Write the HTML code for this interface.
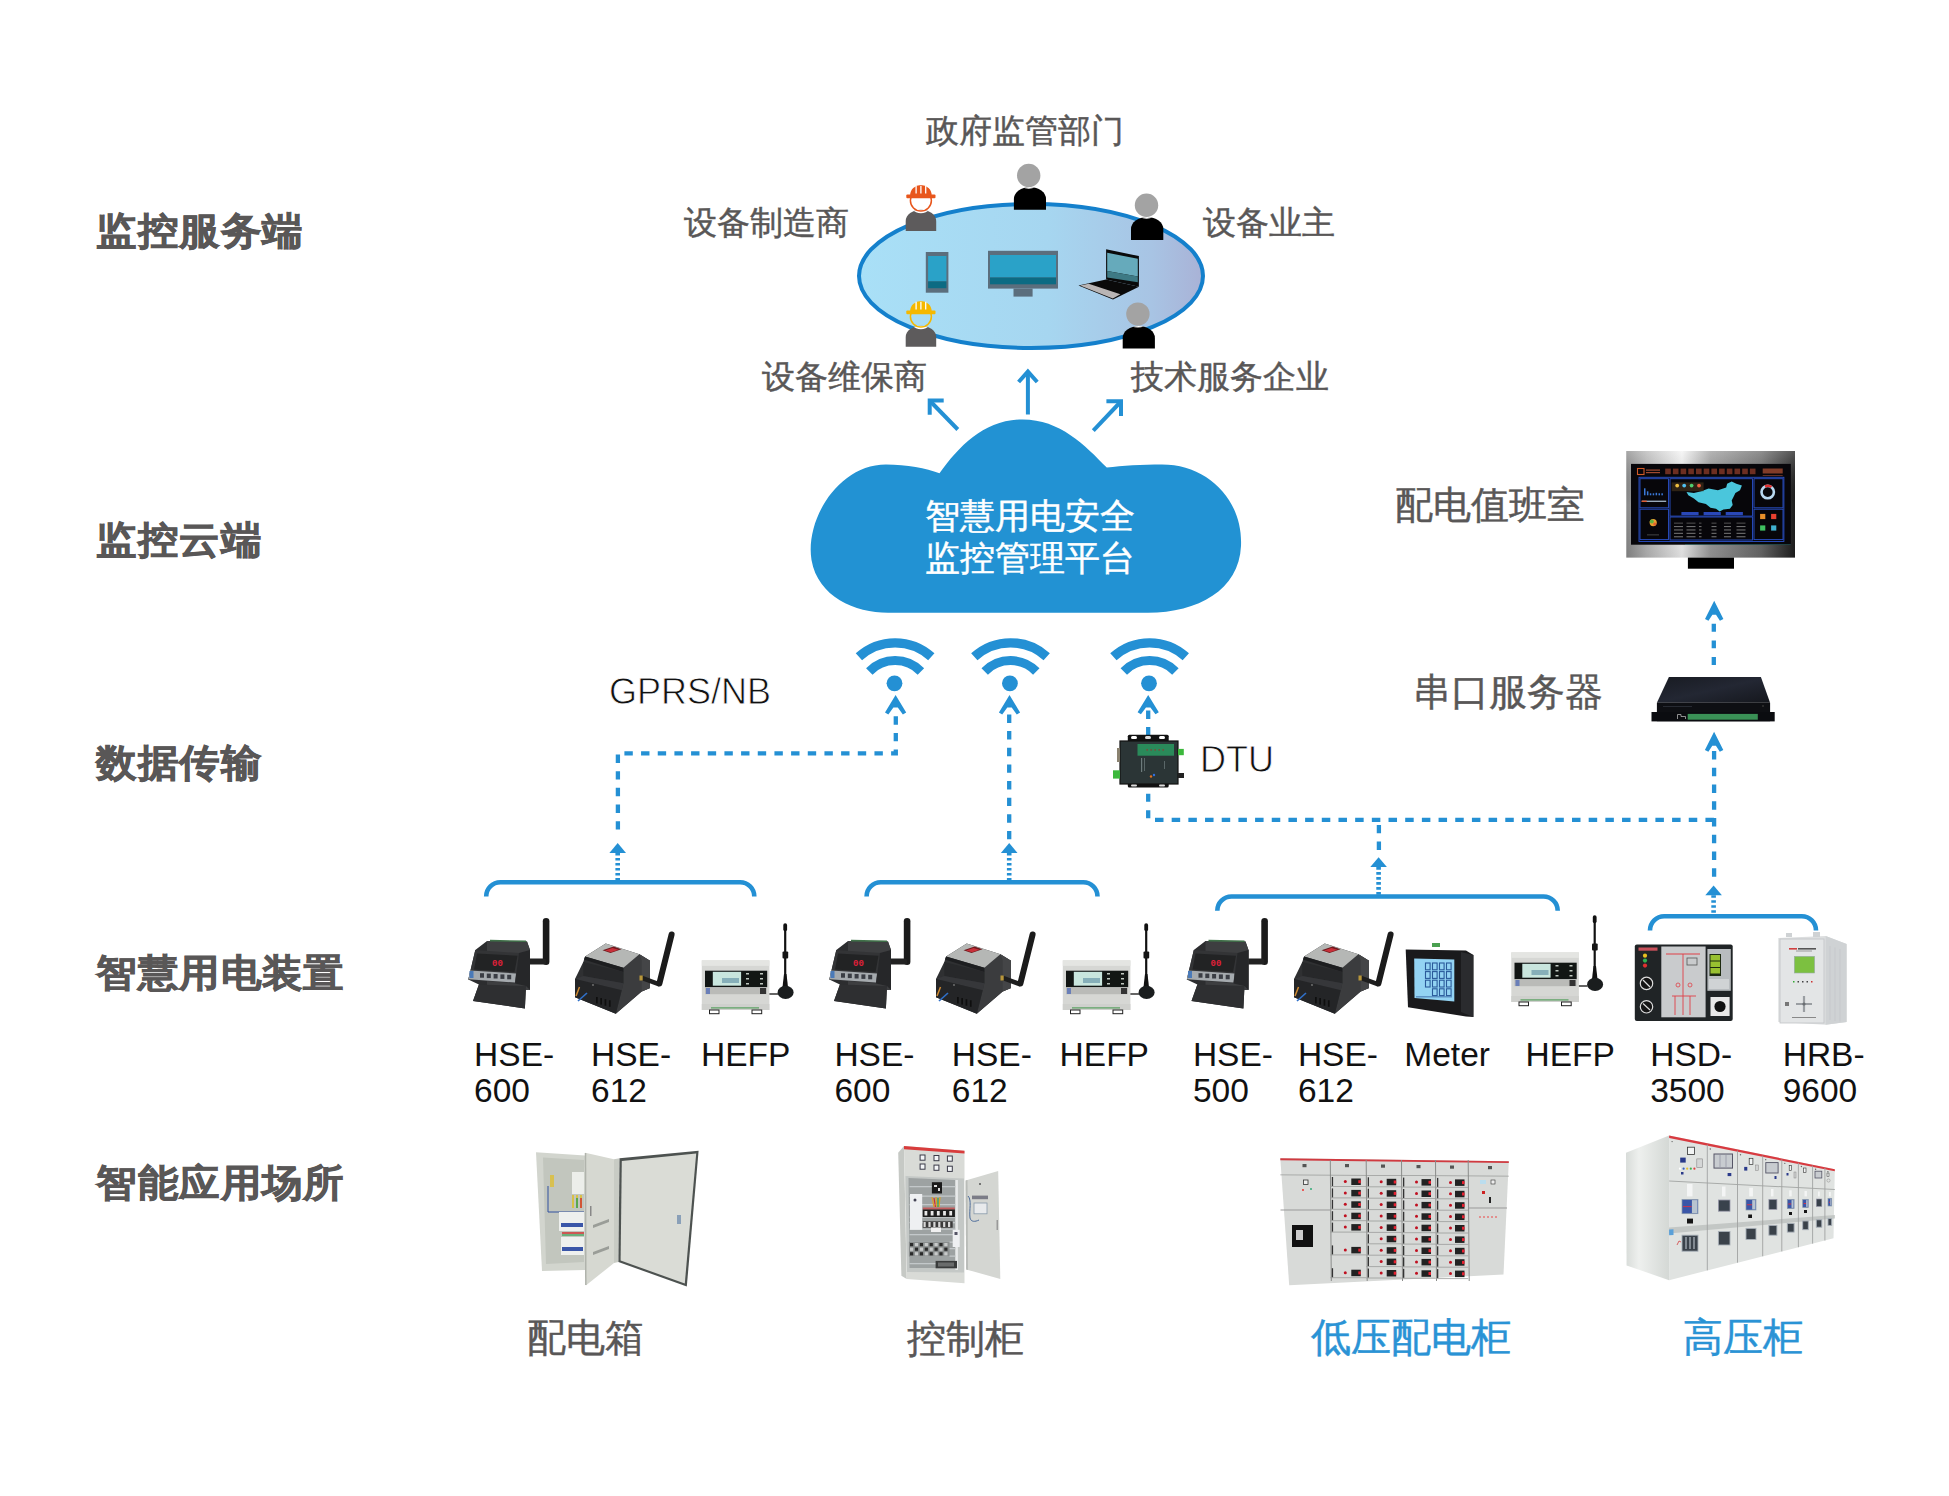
<!DOCTYPE html>
<html><head><meta charset="utf-8"><title>智慧用电安全监控管理平台</title>
<style>
html,body{margin:0;padding:0;background:#fff;}
body{width:1949px;height:1496px;position:relative;overflow:hidden;font-family:"Liberation Sans",sans-serif;}
svg{position:absolute;left:0;top:0;}
.t{position:absolute;white-space:nowrap;line-height:1;}
.l{color:#111;}
</style></head><body>
<svg width="1949" height="1496" viewBox="0 0 1949 1496">
<defs>
<linearGradient id="ellg" x1="0" x2="1" y1="0" y2="0">
 <stop offset="0" stop-color="#a9e0f7"/><stop offset="0.55" stop-color="#a6d6f0"/><stop offset="0.85" stop-color="#a8c4e4"/><stop offset="1" stop-color="#a9b2d6"/>
</linearGradient>
<linearGradient id="bezel" x1="0" x2="1" y1="0" y2="0">
 <stop offset="0" stop-color="#8a8a8a"/><stop offset="0.12" stop-color="#b8b8b8"/><stop offset="0.33" stop-color="#f4f4f4"/><stop offset="0.5" stop-color="#9c9c9c"/><stop offset="0.8" stop-color="#6a6a6a"/><stop offset="1" stop-color="#1e1e1e"/>
</linearGradient>
<linearGradient id="bezelv" x1="0" x2="0" y1="0" y2="1">
 <stop offset="0" stop-color="#fff" stop-opacity="0.25"/><stop offset="0.5" stop-color="#000" stop-opacity="0"/><stop offset="1" stop-color="#000" stop-opacity="0.1"/>
</linearGradient>
<linearGradient id="hvside" x1="0" x2="1" y1="0" y2="0">
 <stop offset="0" stop-color="#d8dcd9"/><stop offset="0.3" stop-color="#eef0ee"/><stop offset="1" stop-color="#d4d8d5"/>
</linearGradient>
<linearGradient id="srvtop" x1="0" x2="1" y1="0" y2="1">
 <stop offset="0" stop-color="#181b22"/><stop offset="0.5" stop-color="#232733"/><stop offset="1" stop-color="#15171d"/>
</linearGradient>
</defs>
<ellipse cx="1031" cy="276" rx="172" ry="72" fill="url(#ellg)" stroke="#1480cc" stroke-width="4"/>
<rect x="925.8" y="252" width="22.6" height="40.7" fill="#5b6e7d"/><rect x="928.1" y="256" width="18.3" height="25.4" fill="#2aa2c8"/><rect x="928.1" y="281.4" width="18.3" height="6.8" fill="#0c6b83"/>
<rect x="988" y="250.8" width="70" height="37.8" fill="#5b6e7d"/><rect x="990" y="255" width="66" height="22.5" fill="#2aa2c8"/><rect x="990" y="277.5" width="66" height="6.8" fill="#0c6b83"/><rect x="1013.5" y="288.6" width="19.1" height="8" fill="#5b6e7d"/>
<polygon points="1106.1,249.3 1138.9,256.1 1138.9,286.7 1106.1,279.5" fill="#0a0a0a"/><polygon points="1107.2,252.8 1137.8,258.7 1137.8,276.5 1107.2,271" fill="#66aabb"/><polygon points="1107.2,271 1137.8,276.5 1137.8,282.2 1107.2,277.4" fill="#3e7a85"/><polygon points="1078.5,285.4 1106.1,279.5 1138.9,286.7 1113,299.5" fill="#0a0a0a"/><polygon points="1080,285.6 1088.7,283.8 1120.4,294.3 1112.8,298.5" fill="#b9b5b5"/>
<clipPath id="pc1"><path d="M1013.9,209.7 L1013.9,199 A16.05000000000001,12 0 0 1 1046,199 L1046,209.7 Z"/></clipPath>
<path d="M1013.9,209.7 L1013.9,199 A16.05000000000001,12 0 0 1 1046,199 L1046,209.7 Z" fill="#000"/>
<circle cx="1028.7" cy="175.4" r="13.4" fill="#fff" clip-path="url(#pc1)"/>
<circle cx="1028.7" cy="175.4" r="11.7" fill="#a3a3a3"/>
<clipPath id="pc2"><path d="M1131,239.9 L1131,229 A16.149999999999977,12 0 0 1 1163.3,229 L1163.3,239.9 Z"/></clipPath>
<path d="M1131,239.9 L1131,229 A16.149999999999977,12 0 0 1 1163.3,229 L1163.3,239.9 Z" fill="#000"/>
<circle cx="1146.5" cy="205.3" r="13.4" fill="#fff" clip-path="url(#pc2)"/>
<circle cx="1146.5" cy="205.3" r="11.7" fill="#a3a3a3"/>
<clipPath id="pc3"><path d="M1122.7,348.6 L1122.7,338 A16.100000000000023,12 0 0 1 1154.9,338 L1154.9,348.6 Z"/></clipPath>
<path d="M1122.7,348.6 L1122.7,338 A16.100000000000023,12 0 0 1 1154.9,338 L1154.9,348.6 Z" fill="#000"/>
<circle cx="1137.9" cy="314.1" r="13.4" fill="#fff" clip-path="url(#pc3)"/>
<circle cx="1137.9" cy="314.1" r="11.7" fill="#a3a3a3"/>
<clipPath id="pc4"><path d="M905.6999999999999,231 L905.6999999999999,221.2 A15.25,11.5 0 0 1 936.1999999999999,221.2 L936.1999999999999,231 Z"/></clipPath>
<path d="M905.6999999999999,231 L905.6999999999999,221.2 A15.25,11.5 0 0 1 936.1999999999999,221.2 L936.1999999999999,231 Z" fill="#5d5b5c"/>
<circle cx="920.9" cy="200.6" r="12.6" fill="#fff" clip-path="url(#pc4)"/>
<circle cx="920.9" cy="200.6" r="10.5" fill="none" stroke="#e8561c" stroke-width="1.5"/>
<path d="M910.1,195.5 A10.8,10.5 0 0 1 931.6999999999999,195.5 Z" fill="#e8561c"/>
<rect x="906.3" y="194.4" width="29.2" height="3.9" rx="1" fill="#e8561c"/>
<line x1="916.1" y1="185.8" x2="916.1" y2="193.6" stroke="#fff" stroke-width="1.3"/>
<line x1="920.9" y1="185.8" x2="920.9" y2="193.6" stroke="#fff" stroke-width="1.3"/>
<line x1="925.6999999999999" y1="185.8" x2="925.6999999999999" y2="193.6" stroke="#fff" stroke-width="1.3"/>
<clipPath id="pc5"><path d="M905.6999999999999,346.7 L905.6999999999999,337.2 A15.25,11.5 0 0 1 936.1999999999999,337.2 L936.1999999999999,346.7 Z"/></clipPath>
<path d="M905.6999999999999,346.7 L905.6999999999999,337.2 A15.25,11.5 0 0 1 936.1999999999999,337.2 L936.1999999999999,346.7 Z" fill="#5d5b5c"/>
<circle cx="920.9" cy="316.6" r="12.6" fill="#fff" clip-path="url(#pc5)"/>
<circle cx="920.9" cy="316.6" r="10.5" fill="none" stroke="#f5b800" stroke-width="1.5"/>
<path d="M910.1,311.5 A10.8,10.5 0 0 1 931.6999999999999,311.5 Z" fill="#f5b800"/>
<rect x="906.3" y="310.4" width="29.2" height="3.9" rx="1" fill="#f5b800"/>
<line x1="916.1" y1="301.8" x2="916.1" y2="309.6" stroke="#fff" stroke-width="1.3"/>
<line x1="920.9" y1="301.8" x2="920.9" y2="309.6" stroke="#fff" stroke-width="1.3"/>
<line x1="925.6999999999999" y1="301.8" x2="925.6999999999999" y2="309.6" stroke="#fff" stroke-width="1.3"/>
<g stroke="#2490d4" stroke-width="4" fill="none" stroke-linejoin="miter" stroke-miterlimit="10"><line x1="1027.9" y1="414.5" x2="1027.9" y2="372"/><polyline points="1018.6,382 1027.9,371.6 1037.2,382"/><line x1="957.8" y1="429.5" x2="931" y2="402"/><polyline points="943.7,400.5 929.7,400.5 929.7,414.8"/><line x1="1093.3" y1="430.6" x2="1119.5" y2="403"/><polyline points="1106.4,401.2 1121,401.2 1121,416"/></g>
<path d="M888,612.7 C855,612.7 818,597 811.5,560 C805,520 838,464.4 886,464.4 C907,464.4 926,468 939.5,473.2 C960,445 985,419.4 1022.6,419.4 C1060,419.4 1085,445 1106.8,467.6 C1122,465.5 1142,464.4 1162,464.4 C1208,464.4 1243,500 1241,546 C1239,590 1198,612.7 1148,612.7 Z" fill="#2292d3"/>
<g fill="none" stroke="#2490d4"><path d="M869.3000000000001,671.4999999999999 A36,36 0 0 1 920.9,671.4999999999999" stroke-width="9"/><path d="M858.9,656.8 A53.9,53.9 0 0 1 931.3000000000001,656.8" stroke-width="9.4"/></g><circle cx="894.5" cy="683.3" r="7.9" fill="#2490d4"/>
<g fill="none" stroke="#2490d4"><path d="M984.7,671.4999999999999 A36,36 0 0 1 1036.3,671.4999999999999" stroke-width="9"/><path d="M974.3,656.8 A53.9,53.9 0 0 1 1046.7,656.8" stroke-width="9.4"/></g><circle cx="1009.9" cy="683.3" r="7.9" fill="#2490d4"/>
<g fill="none" stroke="#2490d4"><path d="M1123.8,671.4999999999999 A36,36 0 0 1 1175.3999999999999,671.4999999999999" stroke-width="9"/><path d="M1113.3999999999999,656.8 A53.9,53.9 0 0 1 1185.8,656.8" stroke-width="9.4"/></g><circle cx="1149" cy="683.3" r="7.9" fill="#2490d4"/>
<polygon points="895.60,695.10 906.20,712.40 902.87,714.44 897.80,707.50 893.40,707.50 888.33,714.44 885.00,712.40" fill="#2490d4"/>
<polygon points="1009.50,695.10 1020.10,712.40 1016.77,714.44 1011.70,707.50 1007.30,707.50 1002.23,714.44 998.90,712.40" fill="#2490d4"/>
<polygon points="1148.20,695.00 1158.80,712.30 1155.47,714.34 1150.40,707.40 1146.00,707.40 1140.93,714.34 1137.60,712.30" fill="#2490d4"/>
<polygon points="1714.20,600.80 1723.40,618.90 1719.92,620.67 1716.00,614.70 1712.40,614.70 1708.48,620.67 1705.00,618.90" fill="#2490d4"/>
<polygon points="1714.10,731.80 1723.30,749.90 1719.82,751.67 1715.90,745.70 1712.30,745.70 1708.38,751.67 1704.90,749.90" fill="#2490d4"/>
<path d="M617.9,829.6 L617.9,754.4" fill="none" stroke="#2490d4" stroke-width="4.3" stroke-dasharray="8.4 8.27"/>
<path d="M624.4,753.3 L895.8,753.3 L895.8,716" fill="none" stroke="#2490d4" stroke-width="4.3" stroke-dasharray="8.4 8.27"/>
<path d="M1009.2,839.3 L1009.2,714.5" fill="none" stroke="#2490d4" stroke-width="4.3" stroke-dasharray="8.4 8.23"/>
<path d="M1148.2,735.6 L1148.2,710" fill="none" stroke="#2490d4" stroke-width="4.3" stroke-dasharray="8.5 8.2"/>
<path d="M1148.2,793.7 L1148.2,818.3" fill="none" stroke="#2490d4" stroke-width="4.3" stroke-dasharray="8.1 8.4"/>
<path d="M1155,819.9 L1714,819.9" fill="none" stroke="#2490d4" stroke-width="4.3" stroke-dasharray="8.5 8.18"/>
<path d="M1714.1,876.7 L1714.1,751.1" fill="none" stroke="#2490d4" stroke-width="4.3" stroke-dasharray="8.4 8.34"/>
<path d="M1378.9,850 L1378.9,824.9" fill="none" stroke="#2490d4" stroke-width="4.3" stroke-dasharray="8.4 8.3"/>
<path d="M1713.8,664.9 L1713.8,623.7" fill="none" stroke="#2490d4" stroke-width="4.3" stroke-dasharray="7.9 8.7"/>
<path d="M486.2,896.5 A14.2,14.2 0 0 1 500.4,882.3 L740.0999999999999,882.3 A14.2,14.2 0 0 1 754.3,896.5" fill="none" stroke="#2490d4" stroke-width="4.6"/>
<polygon points="617.7,843.1 626.0,852.9 609.4000000000001,852.9" fill="#2490d4"/>
<line x1="617.7" y1="852.9" x2="617.7" y2="882.3" stroke="#2490d4" stroke-width="4.6" stroke-dasharray="2.6 2.4"/>
<path d="M866.6,896.5 A14.2,14.2 0 0 1 880.8000000000001,882.3 L1083.3,882.3 A14.2,14.2 0 0 1 1097.5,896.5" fill="none" stroke="#2490d4" stroke-width="4.6"/>
<polygon points="1009.2,843.1 1017.5,852.9 1000.9000000000001,852.9" fill="#2490d4"/>
<line x1="1009.2" y1="852.9" x2="1009.2" y2="882.3" stroke="#2490d4" stroke-width="4.6" stroke-dasharray="2.6 2.4"/>
<path d="M1217.3,910.7 A14.2,14.2 0 0 1 1231.5,896.5 L1543.5,896.5 A14.2,14.2 0 0 1 1557.7,910.7" fill="none" stroke="#2490d4" stroke-width="4.6"/>
<polygon points="1378.6,857.3 1386.8999999999999,867.0999999999999 1370.3,867.0999999999999" fill="#2490d4"/>
<line x1="1378.6" y1="867.0999999999999" x2="1378.6" y2="896.5" stroke="#2490d4" stroke-width="4.6" stroke-dasharray="2.6 2.4"/>
<path d="M1650,930.4000000000001 A14.2,14.2 0 0 1 1664.2,916.2 L1801.8,916.2 A14.2,14.2 0 0 1 1816,930.4000000000001" fill="none" stroke="#2490d4" stroke-width="4.6"/>
<polygon points="1713.6,885.4 1721.8999999999999,895.1999999999999 1705.3,895.1999999999999" fill="#2490d4"/>
<line x1="1713.6" y1="895.1999999999999" x2="1713.6" y2="916.2" stroke="#2490d4" stroke-width="4.6" stroke-dasharray="2.6 2.4"/>
<g transform="translate(0,0)"><rect x="542.8" y="918" width="6.6" height="47" rx="3.3" fill="#1b1b1b"/><polygon points="475.3,950.1 487,941 527,941.5 530,950 530,990 526,986 524.9,1008.5 473,1001 478.9,984.5 468.3,979.6" fill="#2c2d2f"/><rect x="527" y="958.5" width="19" height="6" rx="2" fill="#222"/><rect x="526" y="957" width="3" height="8" fill="#8a7a40"/><polygon points="487,941 527,941.5 530,950 530,990 487,990" fill="#3d3e40"/><line x1="490" y1="940.6" x2="526" y2="941.3" stroke="#3f7048" stroke-width="1.6"/><polygon points="475.3,950.1 519.5,953 515,983.5 468.3,979.6" fill="#333436"/><polygon points="477,953.5 517.5,955.8 514.5,972 474,969.5" fill="#222324"/><text x="492" y="965.5" font-family="Liberation Mono" font-size="9" font-weight="bold" fill="#e0203a">00</text><polygon points="470,970.5 516,973.5 515,982.5 468.5,979.3" fill="#a5aaae"/><rect x="480.0" y="973.2" width="4" height="4.5" fill="#3a3d44"/><rect x="486.8" y="973.6" width="4" height="4.5" fill="#3a3d44"/><rect x="493.6" y="974.0" width="4" height="4.5" fill="#3a3d44"/><rect x="500.4" y="974.4000000000001" width="4" height="4.5" fill="#3a3d44"/><rect x="507.2" y="974.8000000000001" width="4" height="4.5" fill="#3a3d44"/><rect x="469.5" y="971" width="4" height="7" fill="#4a7ab8"/><polygon points="478.9,984.5 526,986 524.9,1008.5 473,1001" fill="#2e2f31"/><polygon points="519,953 530,950 530,990 526,986 515,983.5" fill="#262729"/></g>
<g transform="translate(0,0)"><polygon points="575,979 583.3,962 585.1,956.6 605.7,943.6 639.4,954.3 650,960.7 650,987.9 641.7,991.4 615.8,1013.8 575,997.3" fill="#2f3032"/><polygon points="623.4,967.8 639.4,954.3 650,960.7 650,987.9 641.7,991.4 615.8,1013.8 621.7,990.2 623.4,983.2" fill="#3b3c3e"/><polygon points="639.4,954.3 650,960.7 650,987.9 641.7,991.4 641.7,960" fill="#444547"/><polygon points="585.1,956.6 605.7,943.6 639.4,954.3 623.4,967.8" fill="#b5b7b5"/><polygon points="602.5,950.2 613.5,946.6 621.5,949.3 610.5,953" fill="#6e1a1e"/><polygon points="605,950.4 612.5,948 618.5,949.8 611,952.3" fill="#c8303a"/><polygon points="583.9,959.6 585.1,956.6 623.4,967.8 623.4,972" fill="#1d1e20"/><polygon points="583.3,962 623.4,972 623.4,983.2 583.3,976" fill="#27282a"/><polygon points="575,979 583.3,976 623.4,983.2 621.7,990.2" fill="#36373a"/><polygon points="575,979 621.7,990.2 615.8,1013.8 575,997.3" fill="#242527"/><rect x="596.0" y="997.0" width="1.7" height="6.5" fill="#0e0e0e"/><rect x="600.3" y="998.1" width="1.7" height="6.5" fill="#0e0e0e"/><rect x="604.6" y="999.2" width="1.7" height="6.5" fill="#0e0e0e"/><rect x="608.9" y="1000.3" width="1.7" height="6.5" fill="#0e0e0e"/><circle cx="593" cy="985" r="0.9" fill="#777"/><line x1="576" y1="996" x2="579.5" y2="987" stroke="#d08a30" stroke-width="1.5"/><line x1="578" y1="1001" x2="587" y2="993" stroke="#3070c8" stroke-width="1.6"/><line x1="641.7" y1="977.9" x2="659.4" y2="984.3" stroke="#1e1e1e" stroke-width="4.6"/><rect x="639.5" y="975.5" width="3.2" height="5" fill="#b8963a"/><line x1="671.6" y1="934.5" x2="659.4" y2="983.5" stroke="#1b1b1b" stroke-width="6" stroke-linecap="round"/></g>
<g transform="translate(0,0)"><rect x="701.8" y="960.4" width="67.6" height="49.6" fill="#d6d7d4"/><rect x="701.8" y="960.4" width="67.6" height="5.5" fill="#e4e5e2"/><rect x="701.8" y="1004" width="67.6" height="6" fill="#cfd0cd"/><rect x="705" y="970.7" width="62.2" height="16.5" fill="#121614"/><rect x="712.8" y="971.8" width="28.3" height="13.9" fill="#c9e6de"/><rect x="722" y="978" width="17" height="5" fill="#5a8aa0" opacity="0.6"/><rect x="746" y="973" width="3" height="1.5" fill="#bfc8c0"/><rect x="760" y="973" width="3" height="1.5" fill="#bfc8c0"/><rect x="746" y="978" width="3" height="1.5" fill="#bfc8c0"/><rect x="760" y="978" width="3" height="1.5" fill="#bfc8c0"/><rect x="746" y="983" width="3" height="1.5" fill="#bfc8c0"/><rect x="760" y="983" width="3" height="1.5" fill="#bfc8c0"/><rect x="705" y="987.6" width="62" height="6.6" fill="#babbb8"/><rect x="706" y="988" width="4" height="6" fill="#6a7fb8"/><rect x="760" y="988" width="6" height="6" fill="#333"/><rect x="711" y="1007.3" width="48" height="1.2" fill="#58a060"/><rect x="709.5" y="1010" width="9.5" height="3.7" fill="#fff" stroke="#222" stroke-width="1"/><rect x="752" y="1010" width="9.7" height="3.7" fill="#fff" stroke="#222" stroke-width="1"/><line x1="785.2" y1="925" x2="785.2" y2="985" stroke="#111" stroke-width="2.2"/><rect x="783.3" y="923.2" width="3.8" height="8" rx="1.9" fill="#111"/><rect x="782.5" y="951.5" width="5.7" height="7" rx="1" fill="#151515"/><polygon points="784,974 786.5,974 788,987 782.5,987" fill="#111"/><ellipse cx="785.6" cy="992.4" rx="8" ry="6.6" fill="#1a1d1e"/><path d="M769.4,994 L778,994" stroke="#111" stroke-width="1.3"/></g>
<g transform="translate(361,0)"><rect x="542.8" y="918" width="6.6" height="47" rx="3.3" fill="#1b1b1b"/><polygon points="475.3,950.1 487,941 527,941.5 530,950 530,990 526,986 524.9,1008.5 473,1001 478.9,984.5 468.3,979.6" fill="#2c2d2f"/><rect x="527" y="958.5" width="19" height="6" rx="2" fill="#222"/><rect x="526" y="957" width="3" height="8" fill="#8a7a40"/><polygon points="487,941 527,941.5 530,950 530,990 487,990" fill="#3d3e40"/><line x1="490" y1="940.6" x2="526" y2="941.3" stroke="#3f7048" stroke-width="1.6"/><polygon points="475.3,950.1 519.5,953 515,983.5 468.3,979.6" fill="#333436"/><polygon points="477,953.5 517.5,955.8 514.5,972 474,969.5" fill="#222324"/><text x="492" y="965.5" font-family="Liberation Mono" font-size="9" font-weight="bold" fill="#e0203a">00</text><polygon points="470,970.5 516,973.5 515,982.5 468.5,979.3" fill="#a5aaae"/><rect x="480.0" y="973.2" width="4" height="4.5" fill="#3a3d44"/><rect x="486.8" y="973.6" width="4" height="4.5" fill="#3a3d44"/><rect x="493.6" y="974.0" width="4" height="4.5" fill="#3a3d44"/><rect x="500.4" y="974.4000000000001" width="4" height="4.5" fill="#3a3d44"/><rect x="507.2" y="974.8000000000001" width="4" height="4.5" fill="#3a3d44"/><rect x="469.5" y="971" width="4" height="7" fill="#4a7ab8"/><polygon points="478.9,984.5 526,986 524.9,1008.5 473,1001" fill="#2e2f31"/><polygon points="519,953 530,950 530,990 526,986 515,983.5" fill="#262729"/></g>
<g transform="translate(361,0)"><polygon points="575,979 583.3,962 585.1,956.6 605.7,943.6 639.4,954.3 650,960.7 650,987.9 641.7,991.4 615.8,1013.8 575,997.3" fill="#2f3032"/><polygon points="623.4,967.8 639.4,954.3 650,960.7 650,987.9 641.7,991.4 615.8,1013.8 621.7,990.2 623.4,983.2" fill="#3b3c3e"/><polygon points="639.4,954.3 650,960.7 650,987.9 641.7,991.4 641.7,960" fill="#444547"/><polygon points="585.1,956.6 605.7,943.6 639.4,954.3 623.4,967.8" fill="#b5b7b5"/><polygon points="602.5,950.2 613.5,946.6 621.5,949.3 610.5,953" fill="#6e1a1e"/><polygon points="605,950.4 612.5,948 618.5,949.8 611,952.3" fill="#c8303a"/><polygon points="583.9,959.6 585.1,956.6 623.4,967.8 623.4,972" fill="#1d1e20"/><polygon points="583.3,962 623.4,972 623.4,983.2 583.3,976" fill="#27282a"/><polygon points="575,979 583.3,976 623.4,983.2 621.7,990.2" fill="#36373a"/><polygon points="575,979 621.7,990.2 615.8,1013.8 575,997.3" fill="#242527"/><rect x="596.0" y="997.0" width="1.7" height="6.5" fill="#0e0e0e"/><rect x="600.3" y="998.1" width="1.7" height="6.5" fill="#0e0e0e"/><rect x="604.6" y="999.2" width="1.7" height="6.5" fill="#0e0e0e"/><rect x="608.9" y="1000.3" width="1.7" height="6.5" fill="#0e0e0e"/><circle cx="593" cy="985" r="0.9" fill="#777"/><line x1="576" y1="996" x2="579.5" y2="987" stroke="#d08a30" stroke-width="1.5"/><line x1="578" y1="1001" x2="587" y2="993" stroke="#3070c8" stroke-width="1.6"/><line x1="641.7" y1="977.9" x2="659.4" y2="984.3" stroke="#1e1e1e" stroke-width="4.6"/><rect x="639.5" y="975.5" width="3.2" height="5" fill="#b8963a"/><line x1="671.6" y1="934.5" x2="659.4" y2="983.5" stroke="#1b1b1b" stroke-width="6" stroke-linecap="round"/></g>
<g transform="translate(361,0)"><rect x="701.8" y="960.4" width="67.6" height="49.6" fill="#d6d7d4"/><rect x="701.8" y="960.4" width="67.6" height="5.5" fill="#e4e5e2"/><rect x="701.8" y="1004" width="67.6" height="6" fill="#cfd0cd"/><rect x="705" y="970.7" width="62.2" height="16.5" fill="#121614"/><rect x="712.8" y="971.8" width="28.3" height="13.9" fill="#c9e6de"/><rect x="722" y="978" width="17" height="5" fill="#5a8aa0" opacity="0.6"/><rect x="746" y="973" width="3" height="1.5" fill="#bfc8c0"/><rect x="760" y="973" width="3" height="1.5" fill="#bfc8c0"/><rect x="746" y="978" width="3" height="1.5" fill="#bfc8c0"/><rect x="760" y="978" width="3" height="1.5" fill="#bfc8c0"/><rect x="746" y="983" width="3" height="1.5" fill="#bfc8c0"/><rect x="760" y="983" width="3" height="1.5" fill="#bfc8c0"/><rect x="705" y="987.6" width="62" height="6.6" fill="#babbb8"/><rect x="706" y="988" width="4" height="6" fill="#6a7fb8"/><rect x="760" y="988" width="6" height="6" fill="#333"/><rect x="711" y="1007.3" width="48" height="1.2" fill="#58a060"/><rect x="709.5" y="1010" width="9.5" height="3.7" fill="#fff" stroke="#222" stroke-width="1"/><rect x="752" y="1010" width="9.7" height="3.7" fill="#fff" stroke="#222" stroke-width="1"/><line x1="785.2" y1="925" x2="785.2" y2="985" stroke="#111" stroke-width="2.2"/><rect x="783.3" y="923.2" width="3.8" height="8" rx="1.9" fill="#111"/><rect x="782.5" y="951.5" width="5.7" height="7" rx="1" fill="#151515"/><polygon points="784,974 786.5,974 788,987 782.5,987" fill="#111"/><ellipse cx="785.6" cy="992.4" rx="8" ry="6.6" fill="#1a1d1e"/><path d="M769.4,994 L778,994" stroke="#111" stroke-width="1.3"/></g>
<g transform="translate(718.5,0)"><rect x="542.8" y="918" width="6.6" height="47" rx="3.3" fill="#1b1b1b"/><polygon points="475.3,950.1 487,941 527,941.5 530,950 530,990 526,986 524.9,1008.5 473,1001 478.9,984.5 468.3,979.6" fill="#2c2d2f"/><rect x="527" y="958.5" width="19" height="6" rx="2" fill="#222"/><rect x="526" y="957" width="3" height="8" fill="#8a7a40"/><polygon points="487,941 527,941.5 530,950 530,990 487,990" fill="#3d3e40"/><line x1="490" y1="940.6" x2="526" y2="941.3" stroke="#3f7048" stroke-width="1.6"/><polygon points="475.3,950.1 519.5,953 515,983.5 468.3,979.6" fill="#333436"/><polygon points="477,953.5 517.5,955.8 514.5,972 474,969.5" fill="#222324"/><text x="492" y="965.5" font-family="Liberation Mono" font-size="9" font-weight="bold" fill="#e0203a">00</text><polygon points="470,970.5 516,973.5 515,982.5 468.5,979.3" fill="#a5aaae"/><rect x="480.0" y="973.2" width="4" height="4.5" fill="#3a3d44"/><rect x="486.8" y="973.6" width="4" height="4.5" fill="#3a3d44"/><rect x="493.6" y="974.0" width="4" height="4.5" fill="#3a3d44"/><rect x="500.4" y="974.4000000000001" width="4" height="4.5" fill="#3a3d44"/><rect x="507.2" y="974.8000000000001" width="4" height="4.5" fill="#3a3d44"/><rect x="469.5" y="971" width="4" height="7" fill="#4a7ab8"/><polygon points="478.9,984.5 526,986 524.9,1008.5 473,1001" fill="#2e2f31"/><polygon points="519,953 530,950 530,990 526,986 515,983.5" fill="#262729"/></g>
<g transform="translate(719,0)"><polygon points="575,979 583.3,962 585.1,956.6 605.7,943.6 639.4,954.3 650,960.7 650,987.9 641.7,991.4 615.8,1013.8 575,997.3" fill="#2f3032"/><polygon points="623.4,967.8 639.4,954.3 650,960.7 650,987.9 641.7,991.4 615.8,1013.8 621.7,990.2 623.4,983.2" fill="#3b3c3e"/><polygon points="639.4,954.3 650,960.7 650,987.9 641.7,991.4 641.7,960" fill="#444547"/><polygon points="585.1,956.6 605.7,943.6 639.4,954.3 623.4,967.8" fill="#b5b7b5"/><polygon points="602.5,950.2 613.5,946.6 621.5,949.3 610.5,953" fill="#6e1a1e"/><polygon points="605,950.4 612.5,948 618.5,949.8 611,952.3" fill="#c8303a"/><polygon points="583.9,959.6 585.1,956.6 623.4,967.8 623.4,972" fill="#1d1e20"/><polygon points="583.3,962 623.4,972 623.4,983.2 583.3,976" fill="#27282a"/><polygon points="575,979 583.3,976 623.4,983.2 621.7,990.2" fill="#36373a"/><polygon points="575,979 621.7,990.2 615.8,1013.8 575,997.3" fill="#242527"/><rect x="596.0" y="997.0" width="1.7" height="6.5" fill="#0e0e0e"/><rect x="600.3" y="998.1" width="1.7" height="6.5" fill="#0e0e0e"/><rect x="604.6" y="999.2" width="1.7" height="6.5" fill="#0e0e0e"/><rect x="608.9" y="1000.3" width="1.7" height="6.5" fill="#0e0e0e"/><circle cx="593" cy="985" r="0.9" fill="#777"/><line x1="576" y1="996" x2="579.5" y2="987" stroke="#d08a30" stroke-width="1.5"/><line x1="578" y1="1001" x2="587" y2="993" stroke="#3070c8" stroke-width="1.6"/><line x1="641.7" y1="977.9" x2="659.4" y2="984.3" stroke="#1e1e1e" stroke-width="4.6"/><rect x="639.5" y="975.5" width="3.2" height="5" fill="#b8963a"/><line x1="671.6" y1="934.5" x2="659.4" y2="983.5" stroke="#1b1b1b" stroke-width="6" stroke-linecap="round"/></g>
<g transform="translate(809.5,-8)"><rect x="701.8" y="960.4" width="67.6" height="49.6" fill="#d6d7d4"/><rect x="701.8" y="960.4" width="67.6" height="5.5" fill="#e4e5e2"/><rect x="701.8" y="1004" width="67.6" height="6" fill="#cfd0cd"/><rect x="705" y="970.7" width="62.2" height="16.5" fill="#121614"/><rect x="712.8" y="971.8" width="28.3" height="13.9" fill="#c9e6de"/><rect x="722" y="978" width="17" height="5" fill="#5a8aa0" opacity="0.6"/><rect x="746" y="973" width="3" height="1.5" fill="#bfc8c0"/><rect x="760" y="973" width="3" height="1.5" fill="#bfc8c0"/><rect x="746" y="978" width="3" height="1.5" fill="#bfc8c0"/><rect x="760" y="978" width="3" height="1.5" fill="#bfc8c0"/><rect x="746" y="983" width="3" height="1.5" fill="#bfc8c0"/><rect x="760" y="983" width="3" height="1.5" fill="#bfc8c0"/><rect x="705" y="987.6" width="62" height="6.6" fill="#babbb8"/><rect x="706" y="988" width="4" height="6" fill="#6a7fb8"/><rect x="760" y="988" width="6" height="6" fill="#333"/><rect x="711" y="1007.3" width="48" height="1.2" fill="#58a060"/><rect x="709.5" y="1010" width="9.5" height="3.7" fill="#fff" stroke="#222" stroke-width="1"/><rect x="752" y="1010" width="9.7" height="3.7" fill="#fff" stroke="#222" stroke-width="1"/><line x1="785.2" y1="925" x2="785.2" y2="985" stroke="#111" stroke-width="2.2"/><rect x="783.3" y="923.2" width="3.8" height="8" rx="1.9" fill="#111"/><rect x="782.5" y="951.5" width="5.7" height="7" rx="1" fill="#151515"/><polygon points="784,974 786.5,974 788,987 782.5,987" fill="#111"/><ellipse cx="785.6" cy="992.4" rx="8" ry="6.6" fill="#1a1d1e"/><path d="M769.4,994 L778,994" stroke="#111" stroke-width="1.3"/></g>
<polygon points="1405.7,949.6 1466,950.5 1473.4,955 1473.4,1016.9 1466,1016.5 1408,1007.2" fill="#1a1a1c"/><polygon points="1461,952 1473.4,955 1473.4,1016.9 1461,1012" fill="#2a2b2e"/><polygon points="1414.2,958.6 1454.3,959.5 1454.3,1001.5 1414.5,998" fill="#93d3f3"/><rect x="1425.5" y="963.0" width="4.6" height="6.8" fill="none" stroke="#2a5a9a" stroke-width="1.1"/><rect x="1425.5" y="971.6" width="4.6" height="6.8" fill="none" stroke="#2a5a9a" stroke-width="1.1"/><rect x="1425.5" y="980.2" width="4.6" height="6.8" fill="none" stroke="#2a5a9a" stroke-width="1.1"/><rect x="1432.5" y="963.0" width="4.6" height="6.8" fill="none" stroke="#2a5a9a" stroke-width="1.1"/><rect x="1432.5" y="971.6" width="4.6" height="6.8" fill="none" stroke="#2a5a9a" stroke-width="1.1"/><rect x="1432.5" y="980.2" width="4.6" height="6.8" fill="none" stroke="#2a5a9a" stroke-width="1.1"/><rect x="1432.5" y="988.8" width="4.6" height="6.8" fill="none" stroke="#2a5a9a" stroke-width="1.1"/><rect x="1439.5" y="963.0" width="4.6" height="6.8" fill="none" stroke="#2a5a9a" stroke-width="1.1"/><rect x="1439.5" y="971.6" width="4.6" height="6.8" fill="none" stroke="#2a5a9a" stroke-width="1.1"/><rect x="1439.5" y="980.2" width="4.6" height="6.8" fill="none" stroke="#2a5a9a" stroke-width="1.1"/><rect x="1439.5" y="988.8" width="4.6" height="6.8" fill="none" stroke="#2a5a9a" stroke-width="1.1"/><rect x="1446.5" y="963.0" width="4.6" height="6.8" fill="none" stroke="#2a5a9a" stroke-width="1.1"/><rect x="1446.5" y="971.6" width="4.6" height="6.8" fill="none" stroke="#2a5a9a" stroke-width="1.1"/><rect x="1446.5" y="980.2" width="4.6" height="6.8" fill="none" stroke="#2a5a9a" stroke-width="1.1"/><rect x="1446.5" y="988.8" width="4.6" height="6.8" fill="none" stroke="#2a5a9a" stroke-width="1.1"/><rect x="1416" y="996" width="36" height="1.5" fill="#3a6aa8" opacity="0.6"/><rect x="1432" y="943" width="8" height="4" fill="#4aa050"/>
<rect x="1634.8" y="944.6" width="97.9" height="76.4" rx="2" fill="#202426"/><rect x="1661.3" y="946.5" width="44.3" height="70.8" fill="#c9cbcd"/><line x1="1666" y1="954" x2="1700" y2="954" stroke="#e04048" stroke-width="1.2"/><path d="M1683,954 V1015 M1672,996 H1696 M1675,996 V1015 M1690,996 V1015" stroke="#e04048" stroke-width="0.9" fill="none"/><circle cx="1678" cy="985" r="2" fill="none" stroke="#e04048" stroke-width="0.8"/><circle cx="1690" cy="985" r="2" fill="none" stroke="#e04048" stroke-width="0.8"/><rect x="1687" y="958" width="10" height="7" fill="none" stroke="#555" stroke-width="0.8"/><rect x="1707.4" y="949" width="23.4" height="41.8" fill="#b8bcbf"/><rect x="1709.5" y="954" width="11.5" height="22" fill="#1d2a10"/><rect x="1710.5" y="955" width="9.5" height="5.5" fill="#98c030"/><rect x="1710.5" y="961.5" width="9.5" height="5.5" fill="#98c030"/><rect x="1710.5" y="968" width="9.5" height="5.5" fill="#98c030"/><rect x="1709" y="979" width="20" height="10" fill="#d0d3d5"/><rect x="1710.5" y="997" width="19.1" height="19" fill="#e8e8e8"/><circle cx="1720" cy="1006.5" r="5.6" fill="#111"/><rect x="1638.5" y="947.5" width="19" height="3.2" fill="#c8505a"/><circle cx="1645" cy="955.7" r="2.1" fill="#e8c020"/><circle cx="1645" cy="960.6" r="2.1" fill="#30b050"/><circle cx="1645" cy="965.6" r="2.1" fill="#e03030"/><circle cx="1646.5" cy="983.4" r="6.2" fill="#151515" stroke="#ddd" stroke-width="1.2"/><line x1="1643" y1="980" x2="1650" y2="987" stroke="#ddd" stroke-width="1.2"/><circle cx="1646.5" cy="1006.8" r="6.2" fill="#151515" stroke="#ddd" stroke-width="1.2"/><line x1="1643" y1="1003.5" x2="1650" y2="1010" stroke="#ddd" stroke-width="1.2"/>
<polygon points="1778.3,938 1825.7,936 1846.6,944 1846.6,1022 1825.7,1024.7 1778.3,1022" fill="#dcdedf"/><polygon points="1825.7,936 1846.6,944 1846.6,1022 1825.7,1024.7" fill="#cfd2d4"/><rect x="1780" y="939" width="44" height="84" fill="#e3e5e6" stroke="#c0c3c5" stroke-width="0.8"/><rect x="1794.3" y="956.3" width="20.3" height="16.7" fill="#7cc040" stroke="#9aa" stroke-width="0.6"/><rect x="1789" y="948" width="8" height="1.6" fill="#d04040"/><rect x="1798" y="948" width="18" height="1.6" fill="#555"/><rect x="1793" y="981" width="1.5" height="1.5" fill="#3a3"/><rect x="1797.5" y="981" width="1.5" height="1.5" fill="#444"/><rect x="1802" y="981" width="1.5" height="1.5" fill="#444"/><rect x="1806.5" y="981" width="1.5" height="1.5" fill="#444"/><rect x="1811" y="981" width="1.5" height="1.5" fill="#c33"/><path d="M1804,996 V1012 M1796,1004 H1812" stroke="#9a9ea2" stroke-width="2.2"/><circle cx="1804" cy="1004" r="1.6" fill="#6a6e72"/><rect x="1792" y="1017" width="24" height="1" fill="#888"/><rect x="1796" y="950.5" width="16" height="1" fill="#999"/><path d="M1830,946 V1020 M1835,947.5 V1021 M1840,949 V1021.5" stroke="#c2c6c8" stroke-width="0.7"/><rect x="1785" y="1002" width="4" height="4" fill="#777"/><rect x="1786" y="933" width="6" height="4" fill="#cfd2d4"/><rect x="1813" y="932" width="7" height="5" fill="#cfd2d4"/>
<rect x="1127.8" y="734.7" width="40.9" height="52.7" rx="1.5" fill="#111"/><rect x="1131" y="736" width="6" height="3" rx="1.5" fill="#fff"/><rect x="1159" y="736" width="6" height="3" rx="1.5" fill="#fff"/><rect x="1145" y="736" width="6" height="3" rx="1.5" fill="#ddd"/><rect x="1120" y="741" width="58" height="43" fill="#2b3536"/><rect x="1120" y="741" width="58" height="43" fill="none" stroke="#111" stroke-width="1.2"/><rect x="1137.5" y="744" width="36.5" height="11.7" fill="#2a8a5a"/><rect x="1178" y="748.9" width="5.8" height="6.3" fill="#3cb83c"/><rect x="1113" y="770.3" width="7" height="8.3" fill="#3cb83c"/><rect x="1117" y="750" width="3" height="12" fill="#555"/><rect x="1178" y="773" width="6" height="5" fill="#222"/><circle cx="1151" cy="776.5" r="1.2" fill="#e07020"/><circle cx="1154" cy="775" r="1.2" fill="#3070e0"/><rect x="1146.5" y="749" width="1.3" height="1.8" fill="#7a4a3a"/><rect x="1150.5" y="749" width="1.3" height="1.8" fill="#7a4a3a"/><rect x="1154.5" y="749" width="1.3" height="1.8" fill="#7a4a3a"/><rect x="1158.5" y="749" width="1.3" height="1.8" fill="#7a4a3a"/><rect x="1162.5" y="749" width="1.3" height="1.8" fill="#7a4a3a"/><rect x="1141" y="758" width="1.2" height="14" fill="#8a9a9a" opacity="0.7"/><rect x="1144" y="758" width="1" height="13" fill="#8a9a9a" opacity="0.5"/><rect x="1164" y="761" width="1" height="8" fill="#8a9a9a" opacity="0.5"/><rect x="1117" y="748" width="3" height="14" fill="#8a8270"/><rect x="1131" y="784.5" width="6" height="2" rx="1" fill="#ddd"/><rect x="1159" y="784.5" width="6" height="2" rx="1" fill="#ddd"/>
<polygon points="1668.9,676.9 1760.9,676.9 1770.1,702.7 1656.9,702.7" fill="url(#srvtop)"/><rect x="1656.9" y="702.7" width="113.2" height="18.5" fill="#0e0f13"/><rect x="1651.5" y="712" width="123.2" height="9.4" fill="#0b0c10"/><rect x="1687.7" y="713.9" width="70.1" height="5.8" fill="#3a9156"/><path d="M1677.5,719 V714.5 H1681 V716.5 H1685.5 V719" fill="none" stroke="#b0b0b0" stroke-width="0.8"/><line x1="1663" y1="706.5" x2="1692" y2="706.5" stroke="#2a2e36" stroke-width="0.9"/><circle cx="1763" cy="706" r="1" fill="#333"/>
<rect x="1626.3" y="451" width="168.7" height="106.6" fill="url(#bezel)"/><rect x="1626.3" y="451" width="168.7" height="106.6" fill="url(#bezelv)"/><rect x="1631" y="463.9" width="159.8" height="80.8" fill="#07060a"/><line x1="1685" y1="544.3" x2="1790.8" y2="544.3" stroke="#3aa0a0" stroke-width="0.6" opacity="0.7"/><rect x="1687.9" y="557.6" width="46.1" height="11.1" fill="#000"/><rect x="1637.5" y="468.5" width="6.5" height="6" fill="none" stroke="#d05a28" stroke-width="1.1"/><rect x="1646" y="469.5" width="14" height="1.2" fill="#a04a30"/><rect x="1646" y="472" width="14" height="1.2" fill="#a04a30"/><g fill="#b04a30"><rect x="1665.2" y="468.6" width="5.6" height="5.6" opacity="0.6"/><rect x="1672.9" y="468.6" width="5.6" height="5.6" opacity="0.6"/><rect x="1680.6000000000001" y="468.6" width="5.6" height="5.6" opacity="0.6"/><rect x="1688.3" y="468.6" width="5.6" height="5.6" opacity="0.6"/><rect x="1696.0" y="468.6" width="5.6" height="5.6" opacity="0.6"/><rect x="1703.7" y="468.6" width="5.6" height="5.6" opacity="0.6"/><rect x="1711.4" y="468.6" width="5.6" height="5.6" opacity="0.6"/><rect x="1719.1000000000001" y="468.6" width="5.6" height="5.6" opacity="0.6"/><rect x="1726.8" y="468.6" width="5.6" height="5.6" opacity="0.6"/><rect x="1734.5" y="468.6" width="5.6" height="5.6" opacity="0.6"/><rect x="1742.2" y="468.6" width="5.6" height="5.6" opacity="0.6"/><rect x="1749.9" y="468.6" width="5.6" height="5.6" opacity="0.6"/></g><rect x="1762.7" y="468.5" width="20" height="5" fill="#a04a30" opacity="0.8"/><rect x="1762.7" y="475" width="20" height="1" fill="#a04a30" opacity="0.6"/><g fill="none" stroke="#2a50c8" stroke-width="0.9"><rect x="1639" y="477.3" width="144.9" height="64.2"/><rect x="1640" y="478.7" width="28.5" height="29.1"/><rect x="1640" y="509.2" width="28.5" height="30.4"/><rect x="1670" y="478.7" width="82.5" height="37.4"/><rect x="1670" y="517" width="82.5" height="23"/><rect x="1754" y="478.7" width="29" height="29.1"/><rect x="1754" y="509.2" width="29" height="30.4"/></g><polygon points="1686.5,492.1 1693.9,493 1701.3,491.2 1708.6,488.4 1717.9,490.2 1726.2,487.5 1727.1,483.8 1731.7,481.5 1736.3,483.8 1741.9,485.6 1740,490.2 1735.4,493 1733.6,496.7 1731.7,500.4 1732.7,505 1729.9,508.7 1723.4,509.6 1719.7,511.5 1716,508.7 1710.5,507.8 1705.9,504.1 1698.5,502.2 1693.9,498.6 1688.3,495.3" fill="#4ac6dc"/><rect x="1671.7" y="482.4" width="31.9" height="8.8" fill="#3a2a18" opacity="0.8"/><circle cx="1677.2" cy="485.6" r="1.9" fill="#f0c040"/><circle cx="1684.2" cy="485.6" r="1.9" fill="#50c0f0"/><circle cx="1691.6" cy="485.6" r="1.9" fill="#50d070"/><circle cx="1699" cy="485.6" r="1.9" fill="#f06040"/><rect x="1681.4" y="512" width="17.2" height="3.2" fill="#2a48b8"/><rect x="1703.6" y="512" width="17.2" height="3.2" fill="#2a48b8"/><rect x="1725.7" y="512" width="17.2" height="3.2" fill="#2a48b8"/><rect x="1644.0" y="488.3" width="1.5" height="7" fill="#3a78d8"/><rect x="1646.9" y="491.3" width="1.5" height="4" fill="#3a78d8"/><rect x="1649.8" y="493.3" width="1.5" height="2" fill="#3a78d8"/><rect x="1652.7" y="493.3" width="1.5" height="2" fill="#3a78d8"/><rect x="1655.6" y="492.8" width="1.5" height="2.5" fill="#3a78d8"/><rect x="1658.5" y="493.3" width="1.5" height="2" fill="#3a78d8"/><rect x="1661.4" y="493.3" width="1.5" height="2" fill="#3a78d8"/><rect x="1641.7" y="500.6" width="24.5" height="1.4" fill="#9ab"/><rect x="1641.7" y="500.6" width="5" height="1.4" fill="#e05a30"/><circle cx="1767.7" cy="492.1" r="6.2" fill="none" stroke="#b8d8f0" stroke-width="2.6"/><path d="M1765,486.5 A6.2,6.2 0 0 1 1771.5,487" fill="none" stroke="#e03030" stroke-width="2.6"/><circle cx="1653.2" cy="522.6" r="3.6" fill="#e8a030"/><circle cx="1651.8" cy="521.5" r="2" fill="#60b040"/><circle cx="1654.8" cy="524" r="1.6" fill="#e06030"/><rect x="1647" y="534.5" width="12" height="0.8" fill="#555"/><rect x="1760.1000000000001" y="513.9" width="5.2" height="5.2" fill="#e8902a"/><rect x="1771.1000000000001" y="513.9" width="5.2" height="5.2" fill="#e84030"/><rect x="1760.1000000000001" y="525.4" width="5.2" height="5.2" fill="#40c060"/><rect x="1771.1000000000001" y="525.4" width="5.2" height="5.2" fill="#40b0d0"/><g fill="#7a7a7a"><rect x="1674.0" y="522.6" width="9" height="1.1" opacity="0.6"/><rect x="1686.5" y="522.6" width="9" height="1.1" opacity="0.6"/><rect x="1699.0" y="522.6" width="2.5" height="1.1" opacity="0.6"/><rect x="1711.5" y="522.6" width="5" height="1.1" opacity="0.6"/><rect x="1724.0" y="522.6" width="7" height="1.1" opacity="0.6"/><rect x="1736.5" y="522.6" width="9" height="1.1" opacity="0.6"/><rect x="1674.0" y="526.0" width="9" height="1.1" opacity="0.9"/><rect x="1686.5" y="526.0" width="9" height="1.1" opacity="0.9"/><rect x="1699.0" y="526.0" width="2.5" height="1.1" opacity="0.9"/><rect x="1711.5" y="526.0" width="5" height="1.1" opacity="0.9"/><rect x="1724.0" y="526.0" width="7" height="1.1" opacity="0.9"/><rect x="1736.5" y="526.0" width="9" height="1.1" opacity="0.9"/><rect x="1674.0" y="529.4" width="9" height="1.1" opacity="0.9"/><rect x="1686.5" y="529.4" width="9" height="1.1" opacity="0.9"/><rect x="1699.0" y="529.4" width="2.5" height="1.1" opacity="0.9"/><rect x="1711.5" y="529.4" width="5" height="1.1" opacity="0.9"/><rect x="1724.0" y="529.4" width="7" height="1.1" opacity="0.9"/><rect x="1736.5" y="529.4" width="9" height="1.1" opacity="0.9"/><rect x="1674.0" y="532.8000000000001" width="9" height="1.1" opacity="0.9"/><rect x="1686.5" y="532.8000000000001" width="9" height="1.1" opacity="0.9"/><rect x="1699.0" y="532.8000000000001" width="2.5" height="1.1" opacity="0.9"/><rect x="1711.5" y="532.8000000000001" width="5" height="1.1" opacity="0.9"/><rect x="1724.0" y="532.8000000000001" width="7" height="1.1" opacity="0.9"/><rect x="1736.5" y="532.8000000000001" width="9" height="1.1" opacity="0.9"/><rect x="1674.0" y="536.2" width="9" height="1.1" opacity="0.9"/><rect x="1686.5" y="536.2" width="9" height="1.1" opacity="0.9"/><rect x="1699.0" y="536.2" width="2.5" height="1.1" opacity="0.9"/><rect x="1711.5" y="536.2" width="5" height="1.1" opacity="0.9"/><rect x="1724.0" y="536.2" width="7" height="1.1" opacity="0.9"/><rect x="1736.5" y="536.2" width="9" height="1.1" opacity="0.9"/></g>
<polygon points="536,1152.3 585,1155.5 585,1270 542,1271" fill="#d2d5ce"/><polygon points="543,1157.5 584,1160 584,1262 546,1264" fill="#c2c6be"/><rect x="550" y="1175" width="4" height="12" fill="#d8c050"/><rect x="572" y="1172" width="12" height="22" fill="#eceeea"/><path d="M573,1195 V1208 M577,1195 V1208 M581,1195 V1208" stroke="#e0c020" stroke-width="1.5"/><path d="M577,1198 V1208" stroke="#30a050" stroke-width="1.5"/><path d="M581,1198 V1208" stroke="#d03030" stroke-width="1.5"/><path d="M548,1186 V1212 H584" stroke="#3050a0" stroke-width="1" fill="none"/><rect x="559" y="1212" width="25" height="19" fill="#eef0ee"/><rect x="561" y="1223" width="22" height="4" fill="#3a56a8"/><rect x="561" y="1237" width="23" height="18" fill="#eef0ee"/><rect x="562" y="1247" width="21" height="4" fill="#3a56a8"/><path d="M562,1233 H584" stroke="#d03030" stroke-width="1.5"/><path d="M562,1235 H584" stroke="#30a050" stroke-width="1.2"/><polygon points="585.2,1152.8 614,1159.3 614,1263 585.8,1285.5" fill="#d6d8d1"/><line x1="585.5" y1="1153" x2="585.8" y2="1285" stroke="#b0b3ac" stroke-width="1.5"/><polygon points="593,1225 609,1219 609,1222 593,1228" fill="#9a9d98"/><polygon points="593,1252 609,1246 609,1249 593,1255" fill="#9a9d98"/><rect x="590" y="1206" width="1.5" height="10" fill="#888"/><polygon points="614,1159.3 619.5,1158.2 618.4,1262 614,1263" fill="#c8cbc4"/><polygon points="619.5,1158.2 698.6,1150.7 686.8,1286.5 618.4,1262" fill="#4d5250"/><polygon points="621.8,1161 696.2,1153.5 684.8,1283.5 620.6,1260.5" fill="#dadcd6"/><rect x="677" y="1215" width="4" height="9" fill="#8aa0b8"/>
<polygon points="898.2,1152.8 904,1145.9 906.7,1279 901.4,1275.8" fill="#c6c9c5"/><polygon points="904,1145.9 964.5,1150.7 964.5,1283.3 906.7,1279" fill="#d9dbd7"/><polygon points="904,1145.9 964.5,1150.7 964.5,1153.6 904,1149.2" fill="#d83c3c"/>
<rect x="920.1" y="1155" width="4.9" height="5.2" fill="#f4f6f8" stroke="#3a3a48" stroke-width="1"/>
<rect x="934" y="1155.5" width="4.9" height="5.2" fill="#f4f6f8" stroke="#3a3a48" stroke-width="1"/>
<rect x="947.4" y="1156" width="4.9" height="5.2" fill="#f4f6f8" stroke="#3a3a48" stroke-width="1"/>
<rect x="920.1" y="1164" width="4.9" height="5.2" fill="#f4f6f8" stroke="#3a3a48" stroke-width="1"/>
<rect x="934" y="1165.1" width="4.9" height="5.2" fill="#f4f6f8" stroke="#3a3a48" stroke-width="1"/>
<rect x="947.4" y="1166.2" width="4.9" height="5.2" fill="#f4f6f8" stroke="#3a3a48" stroke-width="1"/>
<polygon points="905.5,1176 964,1178.5 964,1272.6 907,1272" fill="#c4c8c6"/><polygon points="908.5,1178 955.4,1180 955.4,1268 909.5,1268" fill="#9da2a2"/><rect x="955.4" y="1180" width="2.5" height="90" fill="#e8eaea"/>
<rect x="909.5" y="1186" width="46" height="1.3" fill="#c8ccce" opacity="0.9"/>
<rect x="909.5" y="1195.5" width="46" height="1.3" fill="#c8ccce" opacity="0.9"/>
<rect x="909.5" y="1204" width="46" height="1.3" fill="#c8ccce" opacity="0.9"/>
<rect x="909.5" y="1216.5" width="46" height="1.3" fill="#c8ccce" opacity="0.9"/>
<rect x="909.5" y="1222" width="46" height="1.3" fill="#c8ccce" opacity="0.9"/>
<rect x="909.5" y="1228.5" width="46" height="1.3" fill="#c8ccce" opacity="0.9"/>
<rect x="909.5" y="1234" width="46" height="1.3" fill="#c8ccce" opacity="0.9"/>
<rect x="909.5" y="1241.5" width="46" height="1.3" fill="#c8ccce" opacity="0.9"/>
<rect x="909.5" y="1248" width="46" height="1.3" fill="#c8ccce" opacity="0.9"/>
<rect x="909.5" y="1255.5" width="46" height="1.3" fill="#c8ccce" opacity="0.9"/>
<rect x="909.5" y="1263" width="46" height="1.3" fill="#c8ccce" opacity="0.9"/>
<rect x="931.9" y="1182.2" width="10.1" height="11.3" fill="#1a1a1a"/><rect x="934" y="1185" width="3" height="2" fill="#ddd"/><rect x="938" y="1188" width="2" height="3" fill="#ddd"/><rect x="910" y="1194" width="12.2" height="35.8" fill="#eef0f2"/><circle cx="915" cy="1200" r="1.5" fill="#445"/><path d="M932,1197 L934,1207 M936,1197 L937,1207 M940,1197 L939,1207" stroke="#e0a020" stroke-width="1.2"/><path d="M934,1198 L935.5,1207" stroke="#d03030" stroke-width="1.2"/><path d="M938,1198 L938,1207" stroke="#30a050" stroke-width="1.2"/><rect x="922.8" y="1207.5" width="32" height="2.2" fill="#d04040" opacity="0.7"/><rect x="922.8" y="1209.5" width="32.1" height="7.5" fill="#1e1e1e"/>
<rect x="924.5" y="1211" width="2.8" height="4.5" fill="#e8e8e8"/>
<rect x="930.7" y="1211" width="2.8" height="4.5" fill="#e8e8e8"/>
<rect x="936.9" y="1211" width="2.8" height="4.5" fill="#e8e8e8"/>
<rect x="943.1" y="1211" width="2.8" height="4.5" fill="#e8e8e8"/>
<rect x="949.3" y="1211" width="2.8" height="4.5" fill="#e8e8e8"/>
<rect x="922.8" y="1221.3" width="29.9" height="6.4" fill="#3a3a3a"/>
<rect x="923.5" y="1222" width="2.2" height="5" fill="#d8d8d8"/>
<rect x="928.4" y="1222" width="2.2" height="5" fill="#d8d8d8"/>
<rect x="933.3" y="1222" width="2.2" height="5" fill="#d8d8d8"/>
<rect x="938.2" y="1222" width="2.2" height="5" fill="#d8d8d8"/>
<rect x="943.1" y="1222" width="2.2" height="5" fill="#d8d8d8"/>
<rect x="948.0" y="1222" width="2.2" height="5" fill="#d8d8d8"/>
<rect x="931" y="1227.5" width="10" height="4.5" fill="#f0f0f0"/><rect x="952.7" y="1229.8" width="7" height="17.2" fill="#eef0f2"/><rect x="954.5" y="1232" width="3" height="3" fill="#556"/><rect x="908.9" y="1241.6" width="40.6" height="15" fill="#8a8e8e"/>
<rect x="910.0" y="1243.0" width="3.2" height="3.2" fill="#2a2a2a"/>
<rect x="914.9" y="1243.0" width="3.2" height="3.2" fill="#c8caca"/>
<rect x="919.8" y="1243.0" width="3.2" height="3.2" fill="#2a2a2a"/>
<rect x="924.7" y="1243.0" width="3.2" height="3.2" fill="#c8caca"/>
<rect x="929.6" y="1243.0" width="3.2" height="3.2" fill="#2a2a2a"/>
<rect x="934.5" y="1243.0" width="3.2" height="3.2" fill="#c8caca"/>
<rect x="939.4" y="1243.0" width="3.2" height="3.2" fill="#2a2a2a"/>
<rect x="944.3" y="1243.0" width="3.2" height="3.2" fill="#c8caca"/>
<rect x="910.0" y="1247.6" width="3.2" height="3.2" fill="#c8caca"/>
<rect x="914.9" y="1247.6" width="3.2" height="3.2" fill="#2a2a2a"/>
<rect x="919.8" y="1247.6" width="3.2" height="3.2" fill="#c8caca"/>
<rect x="924.7" y="1247.6" width="3.2" height="3.2" fill="#2a2a2a"/>
<rect x="929.6" y="1247.6" width="3.2" height="3.2" fill="#c8caca"/>
<rect x="934.5" y="1247.6" width="3.2" height="3.2" fill="#2a2a2a"/>
<rect x="939.4" y="1247.6" width="3.2" height="3.2" fill="#c8caca"/>
<rect x="944.3" y="1247.6" width="3.2" height="3.2" fill="#2a2a2a"/>
<rect x="910.0" y="1252.2" width="3.2" height="3.2" fill="#2a2a2a"/>
<rect x="914.9" y="1252.2" width="3.2" height="3.2" fill="#c8caca"/>
<rect x="919.8" y="1252.2" width="3.2" height="3.2" fill="#2a2a2a"/>
<rect x="924.7" y="1252.2" width="3.2" height="3.2" fill="#c8caca"/>
<rect x="929.6" y="1252.2" width="3.2" height="3.2" fill="#2a2a2a"/>
<rect x="934.5" y="1252.2" width="3.2" height="3.2" fill="#c8caca"/>
<rect x="939.4" y="1252.2" width="3.2" height="3.2" fill="#2a2a2a"/>
<rect x="944.3" y="1252.2" width="3.2" height="3.2" fill="#c8caca"/>
<rect x="935.6" y="1260.9" width="21.4" height="7.4" fill="#3a3c3c"/><rect x="938" y="1262.5" width="16" height="4" fill="#6a6c6c"/>
<polygon points="965.6,1180.6 998.2,1171 1000.3,1279 966.1,1269.4" fill="#d4d6d2"/><polygon points="965.6,1180.6 967.5,1180 968,1270 966.1,1269.4" fill="#b9bcb8"/><rect x="972" y="1195.6" width="16" height="3.6" fill="#556" opacity="0.7"/><rect x="974" y="1203" width="13" height="10.8" fill="#e8eaec" stroke="#8899aa" stroke-width="0.8"/><path d="M968,1196 C972,1200 969,1210 970,1218 C971,1222 975,1222 979,1220" stroke="#4a6a9a" stroke-width="1" fill="none"/><circle cx="980" cy="1184" r="1" fill="#555"/><rect x="996.5" y="1220" width="1.5" height="10" fill="#999"/>
<polygon points="1280.3,1158.3 1508.8,1161.3 1503.5,1274.4 1289.2,1285.3" fill="#d8dad8"/><polygon points="1280.3,1158.3 1508.8,1161.3 1508.8,1163 1280.3,1160.3" fill="#d03a40"/><polygon points="1280.3,1174.4 1508.8,1175.8 1508.8,1176.6 1280.3,1175.3" fill="#9a9c9a"/>
<line x1="1330.3" y1="1160" x2="1331.3" y2="1281" stroke="#8a8c8a" stroke-width="1"/>
<line x1="1366.2" y1="1160" x2="1367.2" y2="1281" stroke="#8a8c8a" stroke-width="1"/>
<line x1="1401.5" y1="1160" x2="1402.5" y2="1281" stroke="#8a8c8a" stroke-width="1"/>
<line x1="1435.5" y1="1160" x2="1436.5" y2="1281" stroke="#8a8c8a" stroke-width="1"/>
<line x1="1468.2" y1="1160" x2="1469.2" y2="1281" stroke="#8a8c8a" stroke-width="1"/>
<line x1="1280.5" y1="1210" x2="1330" y2="1210" stroke="#999" stroke-width="1"/><line x1="1468.5" y1="1208" x2="1507" y2="1208" stroke="#999" stroke-width="1"/><rect x="1292" y="1225" width="21" height="22" fill="#111"/><rect x="1302.5" y="1164" width="4" height="3.2" fill="#333" opacity="0.8"/><rect x="1345" y="1164" width="4" height="3.2" fill="#333" opacity="0.8"/><rect x="1381" y="1164.5" width="4" height="3.2" fill="#333" opacity="0.8"/><rect x="1416.5" y="1165" width="4" height="3.2" fill="#333" opacity="0.8"/><rect x="1450" y="1165.5" width="4" height="3.2" fill="#333" opacity="0.8"/><rect x="1488" y="1166" width="4" height="3.2" fill="#333" opacity="0.8"/><rect x="1296" y="1230" width="7" height="10" fill="#ccc"/><rect x="1303.5" y="1180" width="4.5" height="4.5" fill="#eee" stroke="#333" stroke-width="0.8"/><circle cx="1303" cy="1190" r="1" fill="#e33"/><circle cx="1311" cy="1189" r="1" fill="#3a7"/><rect x="1480" y="1180" width="6" height="4" fill="#bde"/><rect x="1491" y="1180" width="4" height="4" fill="#eee" stroke="#333" stroke-width="0.6"/><rect x="1482" y="1191" width="3" height="3" fill="#c22"/><rect x="1489" y="1197" width="2" height="6" fill="#222"/>
<circle cx="1480" cy="1217" r="0.8" fill="#e33"/>
<circle cx="1484" cy="1217" r="0.8" fill="#e33"/>
<circle cx="1488" cy="1217" r="0.8" fill="#e33"/>
<circle cx="1492" cy="1217" r="0.8" fill="#e33"/>
<circle cx="1496" cy="1217" r="0.8" fill="#e33"/>
<line x1="1330.3" y1="1186.5" x2="1366.2" y2="1186.5" stroke="#9a9c9a" stroke-width="0.8"/>
<rect x="1351.3" y="1178.5" width="9.5" height="6.5" fill="#222"/>
<rect x="1358.3" y="1180.2" width="2.5" height="3" fill="#e82030"/>
<circle cx="1345.3" cy="1181.5" r="1.5" fill="#c01020"/>
<rect x="1331.8" y="1177.0" width="1.3" height="9" fill="#333"/>
<line x1="1330.3" y1="1197.9" x2="1366.2" y2="1197.9" stroke="#9a9c9a" stroke-width="0.8"/>
<rect x="1351.3" y="1189.9" width="9.5" height="6.5" fill="#222"/>
<rect x="1358.3" y="1191.6000000000001" width="2.5" height="3" fill="#e82030"/>
<circle cx="1345.3" cy="1192.9" r="1.5" fill="#c01020"/>
<rect x="1331.8" y="1188.4" width="1.3" height="9" fill="#333"/>
<line x1="1330.3" y1="1209.3" x2="1366.2" y2="1209.3" stroke="#9a9c9a" stroke-width="0.8"/>
<rect x="1351.3" y="1201.3" width="9.5" height="6.5" fill="#222"/>
<rect x="1358.3" y="1203.0" width="2.5" height="3" fill="#e82030"/>
<circle cx="1345.3" cy="1204.3" r="1.5" fill="#c01020"/>
<rect x="1331.8" y="1199.8" width="1.3" height="9" fill="#333"/>
<line x1="1330.3" y1="1220.7" x2="1366.2" y2="1220.7" stroke="#9a9c9a" stroke-width="0.8"/>
<rect x="1351.3" y="1212.7" width="9.5" height="6.5" fill="#222"/>
<rect x="1358.3" y="1214.4" width="2.5" height="3" fill="#e82030"/>
<circle cx="1345.3" cy="1215.7" r="1.5" fill="#c01020"/>
<rect x="1331.8" y="1211.2" width="1.3" height="9" fill="#333"/>
<line x1="1330.3" y1="1232.1" x2="1366.2" y2="1232.1" stroke="#9a9c9a" stroke-width="0.8"/>
<rect x="1351.3" y="1224.1" width="9.5" height="6.5" fill="#222"/>
<rect x="1358.3" y="1225.8" width="2.5" height="3" fill="#e82030"/>
<circle cx="1345.3" cy="1227.1" r="1.5" fill="#c01020"/>
<rect x="1331.8" y="1222.6" width="1.3" height="9" fill="#333"/>
<line x1="1330.3" y1="1254.9" x2="1366.2" y2="1254.9" stroke="#9a9c9a" stroke-width="0.8"/>
<rect x="1351.3" y="1246.9" width="9.5" height="6.5" fill="#222"/>
<rect x="1358.3" y="1248.6000000000001" width="2.5" height="3" fill="#e82030"/>
<circle cx="1345.3" cy="1249.9" r="1.5" fill="#c01020"/>
<rect x="1331.8" y="1245.4" width="1.3" height="9" fill="#333"/>
<line x1="1330.3" y1="1277.7" x2="1366.2" y2="1277.7" stroke="#9a9c9a" stroke-width="0.8"/>
<rect x="1351.3" y="1269.7" width="9.5" height="6.5" fill="#222"/>
<rect x="1358.3" y="1271.4" width="2.5" height="3" fill="#e82030"/>
<circle cx="1345.3" cy="1272.7" r="1.5" fill="#c01020"/>
<rect x="1331.8" y="1268.2" width="1.3" height="9" fill="#333"/>
<line x1="1366.2" y1="1186.8" x2="1401.5" y2="1186.8" stroke="#9a9c9a" stroke-width="0.8"/>
<rect x="1386.7" y="1178.8" width="9.5" height="6.5" fill="#222"/>
<rect x="1393.7" y="1180.5" width="2.5" height="3" fill="#e82030"/>
<circle cx="1381.2" cy="1181.8" r="1.5" fill="#c01020"/>
<rect x="1367.7" y="1177.3" width="1.3" height="9" fill="#333"/>
<line x1="1366.2" y1="1198.2" x2="1401.5" y2="1198.2" stroke="#9a9c9a" stroke-width="0.8"/>
<rect x="1386.7" y="1190.2" width="9.5" height="6.5" fill="#222"/>
<rect x="1393.7" y="1191.9" width="2.5" height="3" fill="#e82030"/>
<circle cx="1381.2" cy="1193.2" r="1.5" fill="#c01020"/>
<rect x="1367.7" y="1188.7" width="1.3" height="9" fill="#333"/>
<line x1="1366.2" y1="1209.6" x2="1401.5" y2="1209.6" stroke="#9a9c9a" stroke-width="0.8"/>
<rect x="1386.7" y="1201.6" width="9.5" height="6.5" fill="#222"/>
<rect x="1393.7" y="1203.3" width="2.5" height="3" fill="#e82030"/>
<circle cx="1381.2" cy="1204.6" r="1.5" fill="#c01020"/>
<rect x="1367.7" y="1200.1" width="1.3" height="9" fill="#333"/>
<line x1="1366.2" y1="1221.0" x2="1401.5" y2="1221.0" stroke="#9a9c9a" stroke-width="0.8"/>
<rect x="1386.7" y="1213.0" width="9.5" height="6.5" fill="#222"/>
<rect x="1393.7" y="1214.7" width="2.5" height="3" fill="#e82030"/>
<circle cx="1381.2" cy="1216.0" r="1.5" fill="#c01020"/>
<rect x="1367.7" y="1211.5" width="1.3" height="9" fill="#333"/>
<line x1="1366.2" y1="1232.3999999999999" x2="1401.5" y2="1232.3999999999999" stroke="#9a9c9a" stroke-width="0.8"/>
<rect x="1386.7" y="1224.3999999999999" width="9.5" height="6.5" fill="#222"/>
<rect x="1393.7" y="1226.1" width="2.5" height="3" fill="#e82030"/>
<circle cx="1381.2" cy="1227.3999999999999" r="1.5" fill="#c01020"/>
<rect x="1367.7" y="1222.8999999999999" width="1.3" height="9" fill="#333"/>
<line x1="1366.2" y1="1243.8" x2="1401.5" y2="1243.8" stroke="#9a9c9a" stroke-width="0.8"/>
<rect x="1386.7" y="1235.8" width="9.5" height="6.5" fill="#222"/>
<rect x="1393.7" y="1237.5" width="2.5" height="3" fill="#e82030"/>
<circle cx="1381.2" cy="1238.8" r="1.5" fill="#c01020"/>
<rect x="1367.7" y="1234.3" width="1.3" height="9" fill="#333"/>
<line x1="1366.2" y1="1255.2" x2="1401.5" y2="1255.2" stroke="#9a9c9a" stroke-width="0.8"/>
<rect x="1386.7" y="1247.2" width="9.5" height="6.5" fill="#222"/>
<rect x="1393.7" y="1248.9" width="2.5" height="3" fill="#e82030"/>
<circle cx="1381.2" cy="1250.2" r="1.5" fill="#c01020"/>
<rect x="1367.7" y="1245.7" width="1.3" height="9" fill="#333"/>
<line x1="1366.2" y1="1266.6" x2="1401.5" y2="1266.6" stroke="#9a9c9a" stroke-width="0.8"/>
<rect x="1386.7" y="1258.6" width="9.5" height="6.5" fill="#222"/>
<rect x="1393.7" y="1260.3" width="2.5" height="3" fill="#e82030"/>
<circle cx="1381.2" cy="1261.6" r="1.5" fill="#c01020"/>
<rect x="1367.7" y="1257.1" width="1.3" height="9" fill="#333"/>
<line x1="1366.2" y1="1278.0" x2="1401.5" y2="1278.0" stroke="#9a9c9a" stroke-width="0.8"/>
<rect x="1386.7" y="1270.0" width="9.5" height="6.5" fill="#222"/>
<rect x="1393.7" y="1271.7" width="2.5" height="3" fill="#e82030"/>
<circle cx="1381.2" cy="1273.0" r="1.5" fill="#c01020"/>
<rect x="1367.7" y="1268.5" width="1.3" height="9" fill="#333"/>
<line x1="1401.5" y1="1187.1" x2="1435.5" y2="1187.1" stroke="#9a9c9a" stroke-width="0.8"/>
<rect x="1421.5" y="1179.1" width="9.5" height="6.5" fill="#222"/>
<rect x="1428.5" y="1180.8" width="2.5" height="3" fill="#e82030"/>
<circle cx="1416.5" cy="1182.1" r="1.5" fill="#c01020"/>
<rect x="1403.0" y="1177.6" width="1.3" height="9" fill="#333"/>
<line x1="1401.5" y1="1198.5" x2="1435.5" y2="1198.5" stroke="#9a9c9a" stroke-width="0.8"/>
<rect x="1421.5" y="1190.5" width="9.5" height="6.5" fill="#222"/>
<rect x="1428.5" y="1192.2" width="2.5" height="3" fill="#e82030"/>
<circle cx="1416.5" cy="1193.5" r="1.5" fill="#c01020"/>
<rect x="1403.0" y="1189.0" width="1.3" height="9" fill="#333"/>
<line x1="1401.5" y1="1209.8999999999999" x2="1435.5" y2="1209.8999999999999" stroke="#9a9c9a" stroke-width="0.8"/>
<rect x="1421.5" y="1201.8999999999999" width="9.5" height="6.5" fill="#222"/>
<rect x="1428.5" y="1203.6" width="2.5" height="3" fill="#e82030"/>
<circle cx="1416.5" cy="1204.8999999999999" r="1.5" fill="#c01020"/>
<rect x="1403.0" y="1200.3999999999999" width="1.3" height="9" fill="#333"/>
<line x1="1401.5" y1="1221.3" x2="1435.5" y2="1221.3" stroke="#9a9c9a" stroke-width="0.8"/>
<rect x="1421.5" y="1213.3" width="9.5" height="6.5" fill="#222"/>
<rect x="1428.5" y="1215.0" width="2.5" height="3" fill="#e82030"/>
<circle cx="1416.5" cy="1216.3" r="1.5" fill="#c01020"/>
<rect x="1403.0" y="1211.8" width="1.3" height="9" fill="#333"/>
<line x1="1401.5" y1="1232.6999999999998" x2="1435.5" y2="1232.6999999999998" stroke="#9a9c9a" stroke-width="0.8"/>
<rect x="1421.5" y="1224.6999999999998" width="9.5" height="6.5" fill="#222"/>
<rect x="1428.5" y="1226.3999999999999" width="2.5" height="3" fill="#e82030"/>
<circle cx="1416.5" cy="1227.6999999999998" r="1.5" fill="#c01020"/>
<rect x="1403.0" y="1223.1999999999998" width="1.3" height="9" fill="#333"/>
<line x1="1401.5" y1="1244.1" x2="1435.5" y2="1244.1" stroke="#9a9c9a" stroke-width="0.8"/>
<rect x="1421.5" y="1236.1" width="9.5" height="6.5" fill="#222"/>
<rect x="1428.5" y="1237.8" width="2.5" height="3" fill="#e82030"/>
<circle cx="1416.5" cy="1239.1" r="1.5" fill="#c01020"/>
<rect x="1403.0" y="1234.6" width="1.3" height="9" fill="#333"/>
<line x1="1401.5" y1="1255.5" x2="1435.5" y2="1255.5" stroke="#9a9c9a" stroke-width="0.8"/>
<rect x="1421.5" y="1247.5" width="9.5" height="6.5" fill="#222"/>
<rect x="1428.5" y="1249.2" width="2.5" height="3" fill="#e82030"/>
<circle cx="1416.5" cy="1250.5" r="1.5" fill="#c01020"/>
<rect x="1403.0" y="1246.0" width="1.3" height="9" fill="#333"/>
<line x1="1401.5" y1="1266.8999999999999" x2="1435.5" y2="1266.8999999999999" stroke="#9a9c9a" stroke-width="0.8"/>
<rect x="1421.5" y="1258.8999999999999" width="9.5" height="6.5" fill="#222"/>
<rect x="1428.5" y="1260.6" width="2.5" height="3" fill="#e82030"/>
<circle cx="1416.5" cy="1261.8999999999999" r="1.5" fill="#c01020"/>
<rect x="1403.0" y="1257.3999999999999" width="1.3" height="9" fill="#333"/>
<line x1="1401.5" y1="1278.3" x2="1435.5" y2="1278.3" stroke="#9a9c9a" stroke-width="0.8"/>
<rect x="1421.5" y="1270.3" width="9.5" height="6.5" fill="#222"/>
<rect x="1428.5" y="1272.0" width="2.5" height="3" fill="#e82030"/>
<circle cx="1416.5" cy="1273.3" r="1.5" fill="#c01020"/>
<rect x="1403.0" y="1268.8" width="1.3" height="9" fill="#333"/>
<line x1="1435.5" y1="1187.4" x2="1468.2" y2="1187.4" stroke="#9a9c9a" stroke-width="0.8"/>
<rect x="1455.0" y="1179.4" width="9.5" height="6.5" fill="#222"/>
<rect x="1462.0" y="1181.1000000000001" width="2.5" height="3" fill="#e82030"/>
<circle cx="1450.5" cy="1182.4" r="1.5" fill="#c01020"/>
<rect x="1437.0" y="1177.9" width="1.3" height="9" fill="#333"/>
<line x1="1435.5" y1="1198.8000000000002" x2="1468.2" y2="1198.8000000000002" stroke="#9a9c9a" stroke-width="0.8"/>
<rect x="1455.0" y="1190.8000000000002" width="9.5" height="6.5" fill="#222"/>
<rect x="1462.0" y="1192.5000000000002" width="2.5" height="3" fill="#e82030"/>
<circle cx="1450.5" cy="1193.8000000000002" r="1.5" fill="#c01020"/>
<rect x="1437.0" y="1189.3000000000002" width="1.3" height="9" fill="#333"/>
<line x1="1435.5" y1="1210.2" x2="1468.2" y2="1210.2" stroke="#9a9c9a" stroke-width="0.8"/>
<rect x="1455.0" y="1202.2" width="9.5" height="6.5" fill="#222"/>
<rect x="1462.0" y="1203.9" width="2.5" height="3" fill="#e82030"/>
<circle cx="1450.5" cy="1205.2" r="1.5" fill="#c01020"/>
<rect x="1437.0" y="1200.7" width="1.3" height="9" fill="#333"/>
<line x1="1435.5" y1="1221.6000000000001" x2="1468.2" y2="1221.6000000000001" stroke="#9a9c9a" stroke-width="0.8"/>
<rect x="1455.0" y="1213.6000000000001" width="9.5" height="6.5" fill="#222"/>
<rect x="1462.0" y="1215.3000000000002" width="2.5" height="3" fill="#e82030"/>
<circle cx="1450.5" cy="1216.6000000000001" r="1.5" fill="#c01020"/>
<rect x="1437.0" y="1212.1000000000001" width="1.3" height="9" fill="#333"/>
<line x1="1435.5" y1="1233.0" x2="1468.2" y2="1233.0" stroke="#9a9c9a" stroke-width="0.8"/>
<rect x="1455.0" y="1225.0" width="9.5" height="6.5" fill="#222"/>
<rect x="1462.0" y="1226.7" width="2.5" height="3" fill="#e82030"/>
<circle cx="1450.5" cy="1228.0" r="1.5" fill="#c01020"/>
<rect x="1437.0" y="1223.5" width="1.3" height="9" fill="#333"/>
<line x1="1435.5" y1="1244.4" x2="1468.2" y2="1244.4" stroke="#9a9c9a" stroke-width="0.8"/>
<rect x="1455.0" y="1236.4" width="9.5" height="6.5" fill="#222"/>
<rect x="1462.0" y="1238.1000000000001" width="2.5" height="3" fill="#e82030"/>
<circle cx="1450.5" cy="1239.4" r="1.5" fill="#c01020"/>
<rect x="1437.0" y="1234.9" width="1.3" height="9" fill="#333"/>
<line x1="1435.5" y1="1255.8000000000002" x2="1468.2" y2="1255.8000000000002" stroke="#9a9c9a" stroke-width="0.8"/>
<rect x="1455.0" y="1247.8000000000002" width="9.5" height="6.5" fill="#222"/>
<rect x="1462.0" y="1249.5000000000002" width="2.5" height="3" fill="#e82030"/>
<circle cx="1450.5" cy="1250.8000000000002" r="1.5" fill="#c01020"/>
<rect x="1437.0" y="1246.3000000000002" width="1.3" height="9" fill="#333"/>
<line x1="1435.5" y1="1267.2" x2="1468.2" y2="1267.2" stroke="#9a9c9a" stroke-width="0.8"/>
<rect x="1455.0" y="1259.2" width="9.5" height="6.5" fill="#222"/>
<rect x="1462.0" y="1260.9" width="2.5" height="3" fill="#e82030"/>
<circle cx="1450.5" cy="1262.2" r="1.5" fill="#c01020"/>
<rect x="1437.0" y="1257.7" width="1.3" height="9" fill="#333"/>
<line x1="1435.5" y1="1278.6000000000001" x2="1468.2" y2="1278.6000000000001" stroke="#9a9c9a" stroke-width="0.8"/>
<rect x="1455.0" y="1270.6000000000001" width="9.5" height="6.5" fill="#222"/>
<rect x="1462.0" y="1272.3000000000002" width="2.5" height="3" fill="#e82030"/>
<circle cx="1450.5" cy="1273.6000000000001" r="1.5" fill="#c01020"/>
<rect x="1437.0" y="1269.1000000000001" width="1.3" height="9" fill="#333"/>
<polygon points="1626,1152.7 1669.1,1135.5 1669.1,1280.2 1626.6,1265.4" fill="url(#hvside)"/><polygon points="1669.1,1135.5 1834.8,1169.3 1833.5,1238.3 1669.1,1280.2" fill="#e0e3e1"/><polygon points="1669.1,1135.5 1834.8,1169.3 1834.8,1171.3 1669.1,1138" fill="#d83a40"/><polygon points="1669.1,1180.4 1834.8,1189 1834.8,1190 1669.1,1181.6" fill="#a8aba9"/><polygon points="1669.1,1227.5 1834.8,1215 1834.8,1218.5 1669.1,1233.5" fill="#c3c7c5"/><polygon points="1669.1,1229.5 1673.5,1229.2 1673.5,1235 1669.1,1235.3" fill="#5aa0d8"/>
<line x1="1707.3" y1="1144.6077248038623" x2="1707.3" y2="1270.3174411587206" stroke="#a0a3a1" stroke-width="0.9"/>
<line x1="1737.5" y1="1150.6222088111044" x2="1737.5" y2="1262.6626433313218" stroke="#a0a3a1" stroke-width="0.9"/>
<line x1="1762.7" y1="1155.6409173204586" x2="1762.7" y2="1256.275196137598" stroke="#a0a3a1" stroke-width="0.9"/>
<line x1="1781.8" y1="1159.44477972239" x2="1781.8" y2="1251.4339167169583" stroke="#a0a3a1" stroke-width="0.9"/>
<line x1="1798.4" y1="1162.7507543753773" x2="1798.4" y2="1247.2263126131563" stroke="#a0a3a1" stroke-width="0.9"/>
<line x1="1812.6" y1="1165.5787567893783" x2="1812.6" y2="1243.6270368135183" stroke="#a0a3a1" stroke-width="0.9"/>
<line x1="1824.9" y1="1168.0283645141824" x2="1824.9" y2="1240.5093542546772" stroke="#a0a3a1" stroke-width="0.9"/>
<rect x="1687.6" y="1147.2" width="6.80" height="7.40" fill="#f2f4f4" stroke="#333" stroke-width="0.8"/>
<rect x="1680.2" y="1157.6" width="5.50" height="5.00" fill="#2a3a8a"/>
<rect x="1696.8" y="1158.9" width="5.60" height="8.60" fill="#d4d6d6" stroke="#888" stroke-width="0.6"/>
<circle cx="1680.0" cy="1168.7" r="1.1" fill="#fff"/>
<circle cx="1683.6" cy="1168.7" r="1.1" fill="#3a60c0"/>
<circle cx="1687.2" cy="1168.7" r="1.1" fill="#e8c030"/>
<circle cx="1690.8" cy="1168.7" r="1.1" fill="#40b050"/>
<circle cx="1694.4" cy="1168.7" r="1.1" fill="#e04040"/>
<rect x="1681" y="1172" width="2.50" height="2.50" fill="#2a3a8a"/>
<rect x="1714" y="1154" width="18.50" height="14.10" fill="#c8ccd0" stroke="#556" stroke-width="1"/>
<path d="M1720,1155 V1167 M1726,1155 V1167" stroke="#889" stroke-width="0.6"/>
<rect x="1727.6" y="1173" width="3.70" height="3.10" fill="#2a3a8a"/>
<rect x="1749.2" y="1158.3" width="3.70" height="6.10" fill="#f2f4f4" stroke="#333" stroke-width="0.7"/>
<rect x="1744.2" y="1166.9" width="3.10" height="3.70" fill="#2a3a8a"/>
<rect x="1755.5" y="1165" width="3.00" height="5.50" fill="#d0d2d2" stroke="#888" stroke-width="0.5"/>
<rect x="1765.8" y="1162.6" width="12.30" height="10.40" fill="#c8ccd0" stroke="#556" stroke-width="0.9"/>
<rect x="1774.5" y="1176" width="2.00" height="3.00" fill="#2a3a8a"/>
<rect x="1789.2" y="1165.6" width="2.50" height="5.00" fill="#f2f4f4" stroke="#333" stroke-width="0.6"/>
<rect x="1786.5" y="1173" width="2.00" height="2.50" fill="#2a3a8a"/>
<rect x="1794" y="1172" width="2.00" height="6.00" fill="#d0d2d2" stroke="#888" stroke-width="0.5"/>
<rect x="1803.5" y="1168" width="2.50" height="4.50" fill="#f2f4f4" stroke="#333" stroke-width="0.6"/>
<rect x="1815" y="1171.2" width="6.80" height="6.80" fill="#c8ccd0" stroke="#556" stroke-width="0.8"/>
<rect x="1827" y="1173" width="2.00" height="3.50" fill="#f2f4f4" stroke="#333" stroke-width="0.5"/>
<circle cx="1828.5" cy="1180.5" r="1.6" fill="none" stroke="#888" stroke-width="0.5"/>
<rect x="1687" y="1184" width="5.50" height="12.40" fill="#f4f5f5"/>
<rect x="1722" y="1186.5" width="3.50" height="9.90" fill="#f4f5f5"/>
<rect x="1749.2" y="1187.8" width="3.70" height="8.60" fill="#f4f5f5"/>
<rect x="1771" y="1189" width="2.50" height="7.40" fill="#f4f5f5"/>
<rect x="1789.2" y="1190.3" width="2.50" height="6.10" fill="#f4f5f5"/>
<rect x="1804.5" y="1191" width="2.40" height="5.40" fill="#f4f5f5"/>
<rect x="1818" y="1191.5" width="1.80" height="4.90" fill="#f4f5f5"/>
<rect x="1829" y="1192" width="1.80" height="4.40" fill="#f4f5f5"/>
<rect x="1682" y="1199.5" width="16.00" height="14.20" fill="#3a56a8" stroke="#8a9aaa" stroke-width="0.7"/>
<line x1="1683" y1="1206.6" x2="1691.6" y2="1206.6" stroke="#e03040" stroke-width="0.9"/>
<rect x="1691.92" y="1200.1" width="5.48" height="13.00" fill="#b8c4d0"/>
<rect x="1687" y="1218.6" width="6.00" height="4.90" fill="#151515"/>
<rect x="1718.4" y="1200" width="11.60" height="11.20" fill="#39424c" stroke="#99a" stroke-width="0.8"/>
<rect x="1746" y="1199.5" width="10.00" height="10.50" fill="#3a56a8" stroke="#8a9aaa" stroke-width="0.7"/>
<line x1="1747" y1="1204.75" x2="1752.0" y2="1204.75" stroke="#e03040" stroke-width="0.9"/>
<rect x="1752.2" y="1200.1" width="3.20" height="9.30" fill="#b8c4d0"/>
<rect x="1748.2" y="1214.5" width="3.80" height="3.50" fill="#151515"/>
<rect x="1768.9" y="1199.5" width="8.00" height="9.90" fill="#39424c" stroke="#99a" stroke-width="0.7"/>
<rect x="1787.3" y="1199.5" width="6.80" height="9.00" fill="#3a56a8" stroke="#8a9aaa" stroke-width="0.7"/>
<line x1="1788.3" y1="1204.0" x2="1791.3799999999999" y2="1204.0" stroke="#e03040" stroke-width="0.9"/>
<rect x="1791.5159999999998" y="1200.1" width="1.98" height="7.80" fill="#b8c4d0"/>
<rect x="1789" y="1212" width="3.00" height="3.00" fill="#151515"/>
<rect x="1802.7" y="1199.5" width="5.60" height="8.00" fill="#3a56a8" stroke="#8a9aaa" stroke-width="0.7"/>
<line x1="1803.7" y1="1203.5" x2="1806.06" y2="1203.5" stroke="#e03040" stroke-width="0.9"/>
<rect x="1806.172" y="1200.1" width="1.53" height="6.80" fill="#b8c4d0"/>
<rect x="1804" y="1210" width="3.00" height="3.00" fill="#151515"/>
<rect x="1816.3" y="1199" width="5.50" height="7.50" fill="#39424c" stroke="#99a" stroke-width="0.6"/>
<rect x="1828" y="1198.5" width="3.70" height="7.50" fill="#3a56a8" stroke="#8a9aaa" stroke-width="0.7"/>
<line x1="1829" y1="1202.25" x2="1830.22" y2="1202.25" stroke="#e03040" stroke-width="0.9"/>
<rect x="1830.294" y="1199.1" width="0.81" height="6.30" fill="#b8c4d0"/>
<rect x="1682" y="1235.2" width="16.00" height="16.00" fill="#3a424a" stroke="#a8b0b8" stroke-width="0.9"/>
<rect x="1718.4" y="1231.5" width="11.60" height="13.50" fill="#3a424a" stroke="#a8b0b8" stroke-width="0.9"/>
<rect x="1746" y="1228.4" width="10.00" height="11.10" fill="#3a424a" stroke="#a8b0b8" stroke-width="0.9"/>
<rect x="1768.9" y="1225.4" width="8.00" height="9.80" fill="#3a424a" stroke="#a8b0b8" stroke-width="0.9"/>
<rect x="1787.3" y="1223.5" width="6.80" height="8.60" fill="#3a424a" stroke="#a8b0b8" stroke-width="0.9"/>
<rect x="1802.7" y="1221" width="5.60" height="8.70" fill="#3a424a" stroke="#a8b0b8" stroke-width="0.9"/>
<rect x="1816.3" y="1219.8" width="5.50" height="7.40" fill="#3a424a" stroke="#a8b0b8" stroke-width="0.9"/>
<rect x="1828" y="1218.6" width="3.70" height="6.80" fill="#3a424a" stroke="#a8b0b8" stroke-width="0.9"/>
<path d="M1686,1237 V1249 M1690,1237 V1249 M1694,1237 V1249" stroke="#c8d0d8" stroke-width="1"/>
<path d="M1677,1245 L1679,1241 L1681,1242" stroke="#d04040" stroke-width="0.8" fill="none"/>
<circle cx="1672.1" cy="1141.5793602896802" r="0.7" fill="#666"/>
<circle cx="1710.3" cy="1148.956547978274" r="0.7" fill="#666"/>
<circle cx="1740.5" cy="1154.7887748943874" r="0.7" fill="#666"/>
<circle cx="1765.7" cy="1159.6554013277007" r="0.7" fill="#666"/>
<circle cx="1784.8" cy="1163.3439951719977" r="0.7" fill="#666"/>
<circle cx="1801.4" cy="1166.5497887748945" r="0.7" fill="#666"/>
<circle cx="1815.6" cy="1169.292094146047" r="0.7" fill="#666"/>
<circle cx="1827.9" cy="1171.6674713337356" r="0.7" fill="#666"/>
</svg>
<div class="t" style="left:96.4px;top:212.3px;font-size:40px;color:#595757;font-weight:bold;-webkit-text-stroke:0.8px #595757;letter-spacing:1.4px;transform:scale(1.0,0.94);transform-origin:0 0;">监控服务端</div>
<div class="t" style="left:96.4px;top:521.3px;font-size:40px;color:#595757;font-weight:bold;-webkit-text-stroke:0.8px #595757;letter-spacing:1.4px;transform:scale(1.0,0.94);transform-origin:0 0;">监控云端</div>
<div class="t" style="left:96.4px;top:744px;font-size:40px;color:#595757;font-weight:bold;-webkit-text-stroke:0.8px #595757;letter-spacing:1.4px;transform:scale(1.0,0.94);transform-origin:0 0;">数据传输</div>
<div class="t" style="left:96.4px;top:954.3px;font-size:40px;color:#595757;font-weight:bold;-webkit-text-stroke:0.8px #595757;letter-spacing:1.4px;transform:scale(1.0,0.94);transform-origin:0 0;">智慧用电装置</div>
<div class="t" style="left:96.4px;top:1164px;font-size:40px;color:#595757;font-weight:bold;-webkit-text-stroke:0.8px #595757;letter-spacing:1.4px;transform:scale(1.0,0.94);transform-origin:0 0;">智能应用场所</div>
<div class="t" style="left:925.7px;top:114.2px;font-size:33px;color:#595757;-webkit-text-stroke:0.45px #595757;">政府监管部门</div>
<div class="t" style="left:683.7px;top:205.8px;font-size:33px;color:#595757;-webkit-text-stroke:0.45px #595757;">设备制造商</div>
<div class="t" style="left:1202.7px;top:205.7px;font-size:33px;color:#595757;-webkit-text-stroke:0.45px #595757;">设备业主</div>
<div class="t" style="left:762.2px;top:359.8px;font-size:33px;color:#595757;-webkit-text-stroke:0.45px #595757;">设备维保商</div>
<div class="t" style="left:1131.3px;top:359.9px;font-size:33px;color:#595757;-webkit-text-stroke:0.45px #595757;">技术服务企业</div>
<div class="t" style="left:924.6px;top:498px;font-size:35px;color:#ffffff;-webkit-text-stroke:0.45px #ffffff;">智慧用电安全</div>
<div class="t" style="left:924.6px;top:540.3px;font-size:35px;color:#ffffff;-webkit-text-stroke:0.45px #ffffff;">监控管理平台</div>
<div class="t" style="left:1394.8px;top:485.7px;font-size:38px;color:#595757;-webkit-text-stroke:0.45px #595757;">配电值班室</div>
<div class="t" style="left:1412.9px;top:673.1px;font-size:38px;color:#595757;-webkit-text-stroke:0.45px #595757;">串口服务器</div>
<div class="t" style="left:526.5px;top:1318.8px;font-size:38.5px;color:#595757;-webkit-text-stroke:0.45px #595757;">配电箱</div>
<div class="t" style="left:907.4px;top:1318.5px;font-size:39px;color:#595757;-webkit-text-stroke:0.45px #595757;">控制柜</div>
<div class="t" style="left:1311.2px;top:1317.3px;font-size:40px;color:#2a93d5;-webkit-text-stroke:0.45px #2a93d5;">低压配电柜</div>
<div class="t" style="left:1682.6px;top:1317.3px;font-size:40px;color:#2a93d5;-webkit-text-stroke:0.45px #2a93d5;">高压柜</div>
<div class="t l" style="left:609px;top:673.5px;font-size:36px;line-height:36px;color:#111;-webkit-text-stroke:0.8px #fff;">GPRS/NB</div>
<div class="t l" style="left:1200px;top:742px;font-size:36px;line-height:36px;color:#111;-webkit-text-stroke:0.8px #fff;">DTU</div>
<div class="t l" style="left:474.1px;top:1037.4px;font-size:33.5px;line-height:36px;color:#111;">HSE-<br>600</div>
<div class="t l" style="left:591px;top:1037.4px;font-size:33.5px;line-height:36px;color:#111;">HSE-<br>612</div>
<div class="t l" style="left:701px;top:1037.4px;font-size:33.5px;line-height:36px;color:#111;">HEFP</div>
<div class="t l" style="left:834.4px;top:1037.4px;font-size:33.5px;line-height:36px;color:#111;">HSE-<br>600</div>
<div class="t l" style="left:951.8px;top:1037.4px;font-size:33.5px;line-height:36px;color:#111;">HSE-<br>612</div>
<div class="t l" style="left:1059.6px;top:1037.4px;font-size:33.5px;line-height:36px;color:#111;">HEFP</div>
<div class="t l" style="left:1192.9px;top:1037.4px;font-size:33.5px;line-height:36px;color:#111;">HSE-<br>500</div>
<div class="t l" style="left:1297.9px;top:1037.4px;font-size:33.5px;line-height:36px;color:#111;">HSE-<br>612</div>
<div class="t l" style="left:1404.3px;top:1037.4px;font-size:33.5px;line-height:36px;color:#111;">Meter</div>
<div class="t l" style="left:1525.5px;top:1037.4px;font-size:33.5px;line-height:36px;color:#111;">HEFP</div>
<div class="t l" style="left:1650.2px;top:1037.4px;font-size:33.5px;line-height:36px;color:#111;">HSD-<br>3500</div>
<div class="t l" style="left:1782.7px;top:1037.4px;font-size:33.5px;line-height:36px;color:#111;">HRB-<br>9600</div>
</body></html>
